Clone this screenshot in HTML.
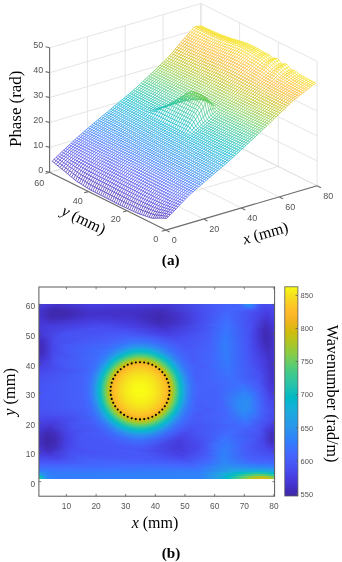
<!DOCTYPE html>
<html><head><meta charset="utf-8"><style>
html,body{margin:0;padding:0;background:#fff;width:342px;height:562px;overflow:hidden}
svg{display:block;will-change:transform}
.s{font-family:"Liberation Sans",sans-serif}
.r{font-family:"Liberation Serif",serif;fill:#000}
</style></head><body>
<svg width="342" height="562" viewBox="0 0 342 562">
<path d="M165.8 230.1L49.6 172.3M49.6 172.3L49.6 47.8M203.6 219L87.4 161.2M87.4 161.2L87.4 36.7M241.4 207.9L125.2 150.2M125.2 150.2L125.2 25.7M279.3 196.9L163 139.1M163 139.1L163 14.6M317.1 185.8L200.9 128M200.9 128L200.9 3.5M165.8 230.1L317.1 185.8M317.1 185.8L317.1 61.3M127.1 210.8L278.3 166.5M278.3 166.5L278.3 42M88.3 191.6L239.6 147.3M239.6 147.3L239.6 22.8M49.6 172.3L200.9 128M200.9 128L200.9 3.5M49.6 172.3L200.9 128M317.1 185.8L200.9 128M49.6 147.4L200.9 103.1M317.1 160.9L200.9 103.1M49.6 122.5L200.9 78.2M317.1 136L200.9 78.2M49.6 97.6L200.9 53.3M317.1 111.1L200.9 53.3M49.6 72.7L200.9 28.4M317.1 86.2L200.9 28.4M49.6 47.8L200.9 3.5M317.1 61.3L200.9 3.5" stroke="#dedede" stroke-width="0.8" fill="none"/>
<path transform="scale(.1)" d="M1665 2185l19-20 19-18 19-18 19-19 19-21 19-20 19-20 19-20 18-19 19-20 19-19 19-19 19-18 19-16 19-17 19-16 19-17 19-16 19-16 18-16 19-17 19-16 19-16 19-16 19-16 19-16 19-16 19-16 19-16 19-16 18-16 19-16 19-17 19-17 19-17 19-18 19-17 19-17 19-18 19-17 19-18 19-17 18-18 19-17 19-18 19-18 19-18 19-17 19-18 19-18 19-18 19-18 19-18 18-18 19-18 19-18 19-19 19-18 19-18 19-18 19-18 19-18 19-18 19-18 18-18 19-18 19-17 19-15 19-15 19-15 19-15 19-15 19-14 19-15 19-15 18-14 19-15 19-14 19-13 0 0-19-10-20-10-19-10-19-10-20-11-19-11-19-10-20-9-19-14-20-18-19-12-19-4-20-10-19-24-19-25-20-6-19 5-19-12-20-28-19-19-20 0-19 0-19-14-20-19-19-12-19-7-20-9-19-13-20-13-19-11-19-10-20-10-19-9-19-9-20-8-19-8-20-7-19-6-19-6-20-6-19-6-19-6-20-6-19-6-19-7-20-7-19-7-20-7-19-7-19-8-20-8-19-9-19-8-20-9-19-9-20-9-19-9-19-10-20-9 0 0-19 2-18 1-19 2-19 8-19 22-19 22-19 21-19 22-19 22-19 22-19 22-19 22-18 22-19 22-19 23-19 22-19 22-19 22-19 19-19 18-19 17-19 18-19 18-18 18-19 18-19 18-19 18-19 18-19 18-19 18-19 18-19 17-19 18-19 18-19 17-18 17-19 16-19 16-19 16-19 16-19 16-19 15-19 16-19 16-19 16-19 15-18 16-19 16-19 15-19 16-19 16-19 15-19 16-19 16-19 15-19 16-19 16-18 15-19 16-19 17-19 16-19 17-19 17-19 17-19 16-19 17-19 17-19 18-18 17-19 17-19 17-19 18-19 18-19 17-19 18-19 19-19 18-19 19-19 20 0 0 20 15 19 16 20 15 19 16 19 16 20 16 19 16 19 16 20 17 19 16 20 16 19 16 19 14 20 12 19 12 19 13 20 12 19 12 19 12 20 11 19 10 20 10 19 10 19 10 20 10 19 10 19 10 20 10 19 10 20 10 19 10 19 10 20 10 19 10 19 9 20 9 19 9 20 9 19 9 19 9 20 9 19 9 19 9 20 9 19 8 19 6 20 7 19 6 20 7 19 6 19 7 20 4 19-1 19 0 20 0 19 0 20 0 19 1 19 2z" fill="#fff"/>
<defs><linearGradient id="sg" gradientUnits="userSpaceOnUse" x1="1076" y1="1912" x2="1924" y2="207"><stop offset="0" stop-color="#402bb5"/><stop offset=".05" stop-color="#4538d7"/><stop offset=".1" stop-color="#4748eb"/><stop offset=".15" stop-color="#4759f8"/><stop offset=".2" stop-color="#416afe"/><stop offset=".25" stop-color="#327cfc"/><stop offset=".3" stop-color="#2c8df2"/><stop offset=".35" stop-color="#259ce8"/><stop offset=".4" stop-color="#1ca9df"/><stop offset=".45" stop-color="#09b5d0"/><stop offset=".5" stop-color="#0ebdbc"/><stop offset=".55" stop-color="#2bc4a7"/><stop offset=".6" stop-color="#40ca8b"/><stop offset=".65" stop-color="#63cd69"/><stop offset=".7" stop-color="#89cb46"/><stop offset=".75" stop-color="#abc627"/><stop offset=".8" stop-color="#cabe10"/><stop offset=".85" stop-color="#e8b618"/><stop offset=".9" stop-color="#feb728"/><stop offset=".95" stop-color="#faca25"/><stop offset="1" stop-color="#f5e31d"/></linearGradient></defs>
<path transform="scale(.1)" d="M1665 2185l19-20 19-18 19-18 19-19 19-21 19-20 19-20 19-20 18-19 19-20 19-19 19-19 19-18 19-16 19-17 19-16 19-17 19-16 19-16 18-16 19-17 19-16 19-16 19-16 19-16 19-16 19-16 19-16 19-16 19-16 18-16 19-16 19-17 19-17 19-17 19-18 19-17 19-17 19-18 19-17 19-18 19-17 18-18 19-17 19-18 19-18 19-18 19-17 19-18 19-18 19-18 19-18 19-18 18-18 19-18 19-18 19-19 19-18 19-18 19-18 19-18 19-18 19-18 19-18 18-18 19-18 19-17 19-15 19-15 19-15 19-15 19-15 19-14 19-15 19-15 18-14 19-15 19-14 19-13M1646 2183l19-21 19-20 19-19 19-20 18-21 19-21 19-20 19-20 19-20 19-20 19-19 19-19 19-18 19-17 19-16 18-17 19-16 19-17 19-16 19-16 19-16 19-16 19-16 19-16 19-16 19-16 18-16 19-16 19-16 19-16 19-16 19-16 19-17 19-17 19-17 19-17 19-18 18-17 19-17 19-18 19-17 19-18 19-17 19-18 19-18 19-18 19-17 19-18 19-18 18-18 19-18 19-18 19-18 19-18 19-18 19-18 19-19 19-18 19-18 19-18 18-18 19-18 19-19 19-18 19-18 19-18 19-17 19-15 19-15 19-15 19-15 18-15 19-15 19-15 19-14 19-15 19-14 19-14 19-13M1627 2182l18-23 19-22 19-20 19-21 19-22 19-21 19-21 19-20 19-20 19-20 19-19 18-20 19-18 19-16 19-17 19-16 19-17 19-16 19-16 19-17 19-16 19-16 18-16 19-16 19-16 19-16 19-16 19-16 19-16 19-15 19-16 19-16 19-17 18-17 19-17 19-17 19-18 19-17 19-17 19-18 19-17 19-18 19-17 19-18 18-17 19-18 19-18 19-18 19-18 19-18 19-18 19-18 19-18 19-18 19-18 19-18 18-19 19-18 19-18 19-18 19-18 19-19 19-18 19-18 19-18 19-19 19-17 18-15 19-15 19-15 19-15 19-15 19-15 19-15 19-15 19-14 19-14 19-14 18-13M1607 2182l19-26 19-23 19-22 19-21 19-23 19-22 19-21 18-21 19-20 19-20 19-20 19-19 19-18 19-17 19-16 19-17 19-16 19-17 18-16 19-16 19-16 19-16 19-16 19-16 19-16 19-16 19-16 19-16 19-16 18-16 19-16 19-16 19-16 19-17 19-17 19-17 19-18 19-17 19-17 19-17 18-18 19-17 19-18 19-17 19-18 19-18 19-18 19-18 19-18 19-18 19-18 18-18 19-18 19-18 19-18 19-19 19-18 19-18 19-18 19-18 19-19 19-18 19-18 18-19 19-18 19-18 19-18 19-15 19-15 19-16 19-15 19-15 19-15 19-15 18-15 19-14 19-14 19-13 19-13M1588 2182l19-28 19-25 19-23 18-23 19-23 19-23 19-21 19-21 19-21 19-20 19-20 19-19 19-18 19-17 18-17 19-17 19-16 19-17 19-16 19-16 19-16 19-16 19-16 19-16 19-16 18-16 19-15 19-16 19-16 19-16 19-16 19-16 19-16 19-17 19-17 19-17 18-17 19-18 19-17 19-17 19-18 19-17 19-17 19-18 19-18 19-18 19-17 18-18 19-18 19-18 19-18 19-19 19-18 19-18 19-18 19-19 19-18 19-18 18-18 19-19 19-18 19-18 19-19 19-18 19-19 19-18 19-18 19-15 19-16 19-15 18-15 19-16 19-15 19-15 19-15 19-14 19-14 19-13 19-12M1568 2182l19-30 19-27 19-24 19-24 19-24 19-23 19-22 19-22 19-21 19-20 18-20 19-20 19-18 19-17 19-17 19-16 19-17 19-16 19-16 19-17 19-16 18-16 19-16 19-15 19-16 19-16 19-16 19-16 19-15 19-16 19-16 19-16 18-16 19-17 19-17 19-17 19-17 19-17 19-18 19-17 19-17 19-18 19-17 18-18 19-17 19-18 19-18 19-18 19-18 19-18 19-18 19-18 19-19 19-18 18-18 19-19 19-18 19-18 19-19 19-18 19-18 19-19 19-18 19-19 19-19 18-18 19-18 19-15 19-16 19-15 19-16 19-15 19-16 19-15 19-16 19-14 19-13 18-13 19-12M1549 2182l19-32 19-28 19-26 19-25 19-25 19-24 18-23 19-22 19-21 19-20 19-20 19-20 19-18 19-17 19-17 19-17 19-17 18-16 19-16 19-16 19-16 19-16 19-16 19-16 19-16 19-16 19-15 19-16 18-16 19-15 19-16 19-16 19-16 19-17 19-17 19-17 19-17 19-17 19-17 18-18 19-17 19-17 19-18 19-17 19-18 19-18 19-18 19-18 19-18 19-18 18-18 19-18 19-19 19-18 19-18 19-19 19-18 19-19 19-18 19-18 19-19 18-18 19-19 19-19 19-18 19-19 19-17 19-16 19-16 19-16 19-16 19-15 18-16 19-16 19-15 19-14 19-13 19-13 19-12M1530 2183l19-35 19-30 18-27 19-26 19-26 19-25 19-23 19-22 19-22 19-20 19-21 19-20 19-18 18-17 19-17 19-17 19-16 19-17 19-16 19-16 19-16 19-16 19-16 19-16 18-15 19-16 19-16 19-15 19-16 19-16 19-15 19-16 19-16 19-17 19-17 18-17 19-17 19-17 19-17 19-17 19-18 19-17 19-17 19-18 19-18 19-18 18-18 19-18 19-18 19-18 19-18 19-18 19-18 19-19 19-18 19-19 19-18 18-19 19-18 19-18 19-19 19-19 19-19 19-18 19-19 19-19 19-17 19-16 18-16 19-16 19-16 19-16 19-15 19-16 19-16 19-13 19-13 19-13 19-12M1510 2179l19-36 19-31 19-29 19-26 19-27 19-24 19-24 19-22 19-22 18-21 19-20 19-20 19-18 19-18 19-17 19-16 19-17 19-16 19-17 19-16 18-16 19-16 19-15 19-16 19-16 19-15 19-16 19-16 19-15 19-16 19-15 18-16 19-16 19-17 19-17 19-17 19-17 19-17 19-17 19-17 19-17 19-18 18-17 19-17 19-18 19-18 19-18 19-18 19-18 19-19 19-18 19-18 19-18 18-19 19-18 19-19 19-18 19-19 19-18 19-19 19-18 19-19 19-19 19-19 18-19 19-19 19-17 19-17 19-16 19-16 19-15 19-16 19-16 19-16 19-15 18-14 19-13 19-12 19-11M1491 2172l19-36 19-32 19-29 19-27 19-27 18-25 19-23 19-23 19-21 19-21 19-21 19-20 19-18 19-17 19-17 19-17 18-17 19-16 19-16 19-17 19-15 19-16 19-16 19-16 19-15 19-16 19-15 18-16 19-16 19-15 19-16 19-15 19-16 19-17 19-17 19-17 19-16 19-17 18-17 19-18 19-17 19-17 19-18 19-17 19-18 19-18 19-18 19-18 19-18 18-18 19-19 19-18 19-18 19-19 19-18 19-19 19-18 19-19 19-19 19-18 18-19 19-19 19-19 19-19 19-19 19-19 19-18 19-16 19-16 19-16 19-17 18-16 19-16 19-17 19-16 19-14 19-13 19-12 19-11M1472 2166l18-38 19-32 19-29 19-28 19-27 19-25 19-24 19-22 19-22 19-21 19-21 19-20 18-18 19-17 19-17 19-17 19-17 19-16 19-16 19-16 19-16 19-16 19-16 18-15 19-16 19-15 19-16 19-15 19-16 19-15 19-16 19-15 19-16 19-17 18-17 19-16 19-17 19-17 19-17 19-17 19-17 19-18 19-17 19-18 19-17 18-18 19-18 19-19 19-18 19-18 19-18 19-19 19-18 19-19 19-18 19-19 18-19 19-18 19-19 19-18 19-19 19-19 19-19 19-19 19-20 19-19 19-18 18-16 19-17 19-17 19-17 19-17 19-17 19-17 19-18 19-14 19-14 19-12 18-12M1452 2159l19-38 19-33 19-30 19-28 19-27 19-25 19-24 18-23 19-22 19-21 19-20 19-20 19-19 19-17 19-17 19-17 19-16 19-17 19-16 18-16 19-16 19-16 19-15 19-16 19-15 19-16 19-15 19-16 19-15 19-15 18-16 19-15 19-16 19-17 19-17 19-16 19-17 19-17 19-17 19-17 19-17 18-17 19-18 19-17 19-18 19-18 19-18 19-18 19-18 19-19 19-18 19-19 18-18 19-19 19-18 19-19 19-19 19-18 19-19 19-19 19-18 19-20 19-19 18-19 19-19 19-20 19-18 19-17 19-17 19-17 19-17 19-17 19-18 19-17 18-18 19-15 19-13 19-13 19-11M1433 2153l19-39 19-34 19-30 18-28 19-28 19-25 19-24 19-23 19-22 19-21 19-21 19-20 19-19 19-17 18-17 19-17 19-16 19-17 19-16 19-16 19-16 19-15 19-16 19-15 19-16 19-15 18-16 19-15 19-15 19-16 19-15 19-16 19-16 19-16 19-16 19-17 19-17 18-17 19-17 19-17 19-17 19-17 19-17 19-18 19-18 19-18 19-18 19-18 18-18 19-19 19-18 19-18 19-19 19-19 19-18 19-19 19-19 19-19 19-18 18-19 19-19 19-19 19-20 19-19 19-19 19-20 19-18 19-17 19-17 19-17 18-16 19-17 19-17 19-17 19-17 19-14 19-13 19-12 19-10M1413 2146l19-39 19-35 19-31 19-28 19-28 19-26 19-24 19-23 19-22 19-21 18-21 19-20 19-18 19-18 19-17 19-17 19-16 19-16 19-17 19-16 19-15 18-16 19-16 19-15 19-15 19-16 19-15 19-15 19-16 19-15 19-15 19-16 19-16 18-16 19-16 19-17 19-17 19-16 19-17 19-17 19-17 19-18 19-17 19-17 18-18 19-18 19-18 19-19 19-18 19-18 19-19 19-18 19-19 19-19 19-18 18-19 19-19 19-19 19-19 19-18 19-19 19-20 19-19 19-20 19-19 19-20 18-18 19-17 19-17 19-17 19-17 19-17 19-17 19-17 19-17 19-14 19-12 18-11 19-11M1394 2140l19-41 19-35 19-31 19-29 19-28 19-26 18-24 19-23 19-23 19-21 19-20 19-21 19-18 19-17 19-18 19-16 19-17 18-16 19-16 19-16 19-16 19-16 19-15 19-16 19-15 19-15 19-15 19-16 18-15 19-15 19-15 19-16 19-16 19-16 19-16 19-17 19-16 19-17 19-17 19-17 18-17 19-17 19-17 19-18 19-18 19-18 19-18 19-18 19-19 19-18 19-19 18-18 19-19 19-19 19-18 19-19 19-19 19-19 19-19 19-19 19-19 19-19 18-20 19-20 19-19 19-20 19-19 19-17 19-18 19-18 19-18 19-18 19-19 18-19 19-19 19-15 19-13 19-13 19-10M1375 2132l19-41 19-36 18-31 19-29 19-28 19-26 19-25 19-23 19-22 19-22 19-20 19-20 19-19 18-17 19-17 19-17 19-17 19-16 19-16 19-16 19-16 19-15 19-16 19-15 18-15 19-16 19-15 19-15 19-15 19-15 19-16 19-15 19-16 19-16 19-16 18-17 19-16 19-17 19-17 19-17 19-17 19-17 19-17 19-17 19-18 19-18 19-19 18-18 19-18 19-19 19-18 19-19 19-19 19-19 19-19 19-18 19-19 19-19 18-19 19-19 19-19 19-20 19-20 19-20 19-20 19-19 19-20 19-18 19-18 18-18 19-19 19-20 19-20 19-21 19-21 19-18 19-14 19-14 19-10M1355 2123l19-41 19-36 19-32 19-29 19-28 19-26 19-25 19-23 19-22 18-21 19-21 19-20 19-19 19-17 19-17 19-17 19-17 19-16 19-16 19-16 18-16 19-15 19-15 19-16 19-15 19-15 19-15 19-15 19-15 19-16 19-15 18-15 19-16 19-16 19-16 19-16 19-17 19-17 19-16 19-17 19-17 19-17 18-18 19-17 19-18 19-18 19-18 19-19 19-18 19-19 19-18 19-19 19-19 19-19 18-19 19-19 19-19 19-19 19-18 19-19 19-19 19-21 19-20 19-20 19-20 18-20 19-19 19-18 19-18 19-19 19-19 19-19 19-20 19-21 19-20 19-16 18-14 19-13 19-10M1336 2114l19-41 19-36 19-32 19-30 19-28 18-26 19-25 19-23 19-22 19-21 19-21 19-20 19-19 19-17 19-17 19-17 18-16 19-17 19-16 19-16 19-15 19-16 19-15 19-15 19-15 19-16 19-15 18-15 19-15 19-15 19-15 19-15 19-16 19-16 19-16 19-16 19-17 19-16 18-17 19-17 19-17 19-17 19-17 19-18 19-18 19-18 19-18 19-18 19-19 18-18 19-19 19-19 19-19 19-19 19-19 19-19 19-19 19-19 19-19 19-19 19-19 18-20 19-20 19-21 19-20 19-20 19-19 19-18 19-18 19-19 19-18 19-18 18-18 19-19 19-18 19-14 19-12 19-11 19-9M1317 2105l19-42 18-36 19-32 19-29 19-28 19-27 19-24 19-24 19-22 19-21 19-21 19-20 18-18 19-18 19-17 19-17 19-16 19-17 19-16 19-16 19-15 19-15 19-16 18-15 19-15 19-15 19-15 19-15 19-15 19-15 19-15 19-15 19-16 19-16 18-16 19-16 19-17 19-16 19-17 19-17 19-17 19-17 19-17 19-17 19-18 18-18 19-19 19-18 19-19 19-18 19-19 19-19 19-19 19-19 19-19 19-19 18-19 19-19 19-19 19-19 19-20 19-20 19-20 19-21 19-20 19-20 19-20 19-18 18-19 19-18 19-18 19-19 19-18 19-19 19-18 19-14 19-12 19-10 19-10M1297 2096l19-42 19-36 19-32 19-30 19-28 19-26 19-25 19-23 18-23 19-21 19-21 19-20 19-18 19-18 19-17 19-17 19-16 19-16 19-16 18-16 19-16 19-15 19-15 19-15 19-15 19-15 19-15 19-15 19-15 19-15 18-15 19-15 19-16 19-16 19-16 19-16 19-16 19-17 19-17 19-16 19-17 18-17 19-18 19-17 19-18 19-18 19-18 19-19 19-18 19-19 19-19 19-19 18-19 19-19 19-19 19-19 19-19 19-19 19-19 19-20 19-19 19-21 19-20 18-21 19-21 19-20 19-20 19-19 19-19 19-19 19-20 19-20 19-21 19-21 19-21 18-16 19-13 19-12 19-9M1278 2087l19-42 19-36 19-33 19-29 18-29 19-26 19-25 19-23 19-22 19-22 19-20 19-20 19-19 19-17 19-18 18-16 19-17 19-16 19-16 19-16 19-15 19-16 19-15 19-15 19-15 19-15 18-15 19-15 19-15 19-14 19-15 19-15 19-16 19-16 19-16 19-16 19-16 18-17 19-16 19-17 19-17 19-17 19-17 19-18 19-18 19-18 19-18 19-19 18-18 19-19 19-19 19-18 19-19 19-20 19-19 19-19 19-19 19-20 19-19 18-19 19-20 19-20 19-21 19-21 19-21 19-21 19-20 19-19 19-20 19-20 18-20 19-21 19-22 19-22 19-22 19-17 19-14 19-12 19-9M1259 2078l18-42 19-37 19-32 19-30 19-29 19-26 19-25 19-23 19-22 19-22 19-20 18-20 19-19 19-17 19-17 19-17 19-17 19-16 19-16 19-16 19-15 19-15 18-16 19-15 19-14 19-15 19-15 19-15 19-15 19-15 19-15 19-15 19-15 18-16 19-16 19-16 19-16 19-17 19-16 19-17 19-17 19-17 19-17 19-17 18-18 19-19 19-18 19-18 19-19 19-19 19-19 19-18 19-19 19-20 19-19 18-19 19-19 19-20 19-19 19-20 19-19 19-21 19-21 19-21 19-21 19-21 18-21 19-19 19-20 19-19 19-20 19-21 19-20 19-21 19-20 19-15 19-12 18-11 19-9M1239 2069l19-42 19-37 19-33 19-30 19-28 19-27 19-24 18-24 19-22 19-21 19-21 19-20 19-18 19-18 19-17 19-17 19-16 19-17 18-16 19-15 19-16 19-15 19-15 19-15 19-15 19-15 19-15 19-14 19-15 18-15 19-15 19-15 19-15 19-16 19-16 19-16 19-16 19-17 19-16 19-17 18-17 19-17 19-18 19-17 19-18 19-19 19-18 19-18 19-19 19-18 19-19 18-18 19-19 19-20 19-19 19-19 19-20 19-19 19-20 19-19 19-20 19-21 18-21 19-21 19-22 19-21 19-21 19-19 19-20 19-19 19-19 19-20 19-19 18-19 19-19 19-13 19-11 19-9 19-9M1220 2060l19-42 19-37 19-33 18-30 19-29 19-26 19-25 19-23 19-23 19-21 19-21 19-19 19-19 19-18 18-17 19-16 19-17 19-16 19-16 19-16 19-15 19-16 19-15 19-15 19-14 18-15 19-15 19-15 19-14 19-15 19-15 19-15 19-15 19-16 19-16 19-16 18-17 19-17 19-18 19-17 19-18 19-18 19-18 19-18 19-19 19-19 19-19 18-17 19-16 19-16 19-18 19-18 19-19 19-19 19-19 19-19 19-20 19-19 18-20 19-20 19-19 19-22 19-21 19-22 19-21 19-22 19-21 19-20 19-19 18-20 19-20 19-20 19-20 19-19 19-19 19-14 19-10 19-9 19-9M1200 2051l19-43 19-37 19-33 19-30 19-28 19-27 19-25 19-23 19-22 19-22 18-20 19-20 19-19 19-17 19-17 19-17 19-17 19-16 19-16 19-16 19-15 18-15 19-15 19-15 19-15 19-15 19-14 19-15 19-15 19-15 19-14 19-15 18-16 19-15 19-16 19-16 19-21 19-21 19-22 19-22 19-21 19-22 19-23 18-22 19-23 19-23 19-22 19-10 19-3 19-5 19-10 19-15 19-17 19-19 18-19 19-20 19-19 19-20 19-19 19-20 19-20 19-21 19-22 19-22 19-22 18-21 19-22 19-20 19-21 19-20 19-21 19-20 19-21 19-21 19-20 19-14 18-11 19-10 19-8M1181 2042l19-43 19-37 19-33 19-31 19-28 18-27 19-24 19-24 19-22 19-21 19-21 19-20 19-18 19-18 19-17 19-17 19-16 18-16 19-16 19-16 19-16 19-15 19-15 19-15 19-14 19-15 19-15 19-14 18-15 19-15 19-15 19-14 19-16 19-15 19-16 19-16 19-29 19-28 19-29 18-29 19-30 19-29 19-30 19-30 19-30 19-31 19-26 19 3 19 18 19 16 18 4 19-8 19-15 19-18 19-19 19-20 19-19 19-20 19-20 19-19 19-20 18-22 19-22 19-22 19-22 19-22 19-22 19-20 19-21 19-21 19-21 19-21 18-21 19-20 19-21 19-14 19-11 19-9 19-8M1162 2032l19-43 18-37 19-33 19-30 19-29 19-26 19-25 19-23 19-23 19-21 19-20 19-20 18-19 19-17 19-18 19-16 19-17 19-16 19-16 19-16 19-15 19-15 19-15 19-15 18-15 19-14 19-15 19-15 19-14 19-15 19-15 19-15 19-15 19-16 19-15 18-16 19-32 19-32 19-32 19-32 19-32 19-33 19-33 19-32 19-34 19-34 18-28 19 9 19 27 19 24 19 9 19-5 19-13 19-18 19-19 19-20 19-19 18-20 19-20 19-20 19-20 19-22 19-22 19-22 19-22 19-23 19-22 19-20 18-21 19-21 19-21 19-21 19-20 19-21 19-19 19-14 19-9 19-9 19-8M1142 2022l19-43 19-37 19-33 19-30 19-29 19-26 19-25 19-23 18-22 19-22 19-20 19-20 19-18 19-18 19-17 19-17 19-16 19-17 19-16 18-15 19-16 19-15 19-15 19-14 19-15 19-15 19-15 19-14 19-15 19-14 19-15 18-15 19-15 19-16 19-15 19-16 19-33 19-32 19-32 19-33 19-33 19-33 18-33 19-34 19-34 19-34 19-29 19 10 19 28 19 26 19 11 19-5 19-14 18-17 19-19 19-20 19-20 19-19 19-20 19-20 19-20 19-22 19-23 19-22 18-23 19-22 19-22 19-21 19-22 19-21 19-21 19-20 19-21 19-20 19-19 18-13 19-9 19-9 19-7M1123 2012l19-43 19-37 19-33 19-30 18-29 19-26 19-25 19-23 19-22 19-21 19-21 19-19 19-19 19-17 19-18 18-16 19-17 19-16 19-16 19-16 19-15 19-15 19-15 19-15 19-15 19-14 18-15 19-15 19-14 19-15 19-15 19-14 19-15 19-16 19-16 19-16 19-32 19-32 18-33 19-33 19-32 19-34 19-33 19-33 19-35 19-34 19-28 19 9 19 29 18 26 19 11 19-5 19-14 19-17 19-20 19-19 19-20 19-20 19-19 19-20 18-21 19-22 19-22 19-23 19-23 19-23 19-22 19-21 19-22 19-21 19-21 18-22 19-20 19-21 19-20 19-12 19-10 19-8 19-7M1104 2002l18-43 19-37 19-33 19-30 19-28 19-27 19-24 19-23 19-22 19-22 19-20 18-20 19-18 19-18 19-17 19-17 19-16 19-17 19-16 19-15 19-16 19-15 18-15 19-14 19-15 19-15 19-14 19-15 19-15 19-14 19-15 19-15 19-15 18-15 19-16 19-16 19-32 19-32 19-33 19-33 19-33 19-33 19-33 19-33 19-35 18-34 19-28 19 9 19 29 19 26 19 11 19-4 19-14 19-18 19-20 19-19 18-20 19-20 19-20 19-20 19-20 19-22 19-23 19-23 19-23 19-23 19-22 18-22 19-22 19-21 19-22 19-22 19-21 19-20 19-21 19-12 19-10 19-8 18-7M1084 1992l19-43 19-37 19-33 19-30 19-28 19-26 19-25 18-23 19-22 19-21 19-20 19-20 19-19 19-17 19-17 19-17 19-17 19-16 18-16 19-16 19-15 19-15 19-15 19-15 19-14 19-15 19-15 19-14 19-15 18-15 19-14 19-15 19-15 19-16 19-15 19-16 19-32 19-33 19-32 19-33 18-33 19-33 19-33 19-34 19-34 19-34 19-28 19 10 19 29 19 27 19 11 19-5 18-15 19-18 19-20 19-19 19-20 19-20 19-20 19-20 19-20 19-23 19-23 18-22 19-23 19-24 19-23 19-21 19-22 19-22 19-22 19-22 19-21 19-21 18-20 19-13 19-9 19-8 19-7M1065 1982l19-43 19-37 19-33 18-30 19-28 19-26 19-24 19-24 19-22 19-21 19-20 19-20 19-18 19-18 18-17 19-17 19-16 19-16 19-16 19-16 19-15 19-15 19-15 19-15 19-15 18-14 19-15 19-15 19-14 19-15 19-15 19-14 19-15 19-16 19-16 19-15 18-32 19-33 19-32 19-33 19-33 19-33 19-33 19-34 19-34 19-34 19-28 18 11 19 31 19 27 19 11 19-7 19-15 19-19 19-20 19-19 19-20 19-20 19-20 18-20 19-20 19-23 19-23 19-23 19-23 19-23 19-23 19-22 19-23 19-22 18-22 19-21 19-22 19-21 19-20 19-13 19-8 19-8 19-7M1045 1972l19-43 19-37 19-32 19-30 19-29 19-26 19-24 19-23 19-22 19-21 18-20 19-20 19-18 19-18 19-17 19-17 19-16 19-17 19-16 19-16 19-15 18-15 19-15 19-15 19-14 19-15 19-14 19-15 19-15 19-14 19-15 19-15 18-15 19-15 19-16 19-16 19-32 19-32 19-33 19-32 19-33 19-33 19-33 18-34 19-34 19-34 19-26 19 13 19 34 19 28 19 8 19-10 19-17 19-19 18-20 19-19 19-20 19-20 19-20 19-20 19-20 19-23 19-23 19-23 19-23 19-24 18-23 19-22 19-23 19-22 19-22 19-22 19-21 19-21 19-21 19-12 19-9 18-7 19-7M1026 1962l19-43 19-37 19-32 19-30 19-28 19-26 18-25 19-22 19-22 19-21 19-21 19-19 19-19 19-17 19-17 19-17 19-17 18-16 19-16 19-16 19-15 19-15 19-15 19-15 19-15 19-14 19-15 19-14 18-15 19-15 19-14 19-15 19-15 19-16 19-15 19-16 19-32 19-32 19-33 18-33 19-32 19-33 19-33 19-34 19-33 19-33 19-22 19 19 19 38 19 25 18 1 19-15 19-18 19-19 19-20 19-19 19-20 19-20 19-20 19-20 19-20 18-23 19-23 19-23 19-24 19-23 19-23 19-23 19-22 19-22 19-23 19-22 19-21 18-22 19-20 19-12 19-9 19-7 19-6M1007 1952l19-43 19-36 18-33 19-30 19-28 19-26 19-24 19-23 19-22 19-21 19-20 19-19 19-19 18-17 19-18 19-16 19-17 19-16 19-16 19-16 19-15 19-15 19-15 19-15 18-15 19-15 19-14 19-15 19-14 19-15 19-15 19-15 19-15 19-15 19-16 18-15 19-33 19-32 19-32 19-33 19-33 19-33 19-33 19-32 19-32 19-29 18-13 19 30 19 37 19 13 19-9 19-17 19-19 19-19 19-20 19-19 19-20 18-20 19-20 19-20 19-20 19-23 19-23 19-23 19-24 19-23 19-23 19-23 18-22 19-23 19-22 19-22 19-22 19-21 19-21 19-12 19-8 19-7 19-6M987 1942l19-42 19-37 19-33 19-29 19-28 19-26 19-24 19-23 19-22 18-21 19-20 19-20 19-18 19-18 19-17 19-17 19-16 19-16 19-17 19-15 18-16 19-15 19-15 19-15 19-14 19-15 19-15 19-14 19-15 19-15 19-14 18-15 19-15 19-16 19-15 19-16 19-32 19-32 19-33 19-32 19-33 19-33 18-32 19-31 19-29 19-18 19 4 19 35 19 22 19-3 19-15 19-18 19-19 18-19 19-20 19-19 19-20 19-20 19-20 19-20 19-20 19-23 19-23 19-23 18-23 19-24 19-23 19-22 19-23 19-22 19-23 19-22 19-22 19-21 19-21 18-12 19-7 19-7 19-6M968 1932l19-42 19-37 19-32 19-30 19-28 18-26 19-24 19-23 19-21 19-21 19-20 19-20 19-18 19-18 19-17 19-17 18-16 19-17 19-16 19-16 19-15 19-15 19-15 19-15 19-15 19-14 19-15 18-15 19-14 19-15 19-15 19-15 19-15 19-15 19-16 19-15 19-32 19-33 18-32 19-33 19-32 19-32 19-31 19-28 19-18 19-1 19 17 19 22 19 2 18-13 19-17 19-19 19-19 19-20 19-19 19-19 19-20 19-20 19-19 19-20 18-21 19-22 19-23 19-24 19-23 19-23 19-23 19-23 19-22 19-23 19-22 18-22 19-22 19-21 19-21 19-12 19-7 19-7 19-6M949 1922l19-42 18-37 19-32 19-30 19-28 19-25 19-24 19-23 19-22 19-20 19-20 19-20 18-18 19-18 19-17 19-17 19-16 19-17 19-16 19-16 19-15 19-15 19-15 18-15 19-15 19-15 19-14 19-15 19-15 19-14 19-15 19-15 19-15 19-16 18-15 19-16 19-32 19-32 19-33 19-32 19-32 19-31 19-27 19-18 19-2 18 11 19 12 19 1 19-10 19-17 19-18 19-19 19-19 19-20 19-19 19-19 18-20 19-19 19-20 19-20 19-20 19-23 19-23 19-23 19-23 19-24 19-23 18-22 19-23 19-22 19-22 19-22 19-22 19-21 19-21 19-12 19-7 19-6 18-6M929 1912l19-42 19-37 19-32 19-29 19-28 19-26 19-24 19-22 18-22 19-21 19-20 19-19 19-18 19-18 19-17 19-17 19-17 19-16 19-16 18-16 19-15 19-16 19-15 19-14 19-15 19-15 19-15 19-14 19-15 19-15 18-15 19-15 19-15 19-15 19-16 19-15 19-33 19-32 19-32 19-32 19-31 18-27 19-18 19-3 19 8 19 6 19-3 19-11 19-16 19-18 19-18 19-19 18-19 19-20 19-19 19-19 19-20 19-19 19-20 19-20 19-20 19-23 19-22 18-23 19-24 19-23 19-23 19-22 19-22 19-23 19-22 19-22 19-21 19-22 18-21 19-11 19-7 19-6 19-5M910 1902l19-42 19-36 19-33 18-29 19-28 19-25 19-24 19-23 19-21 19-21 19-20 19-19 19-18 19-18 19-17 18-17 19-17 19-16 19-16 19-16 19-16 19-15 19-15 19-15 19-15 19-14 18-15 19-15 19-15 19-14 19-15 19-15 19-15 19-16 19-15 19-16 19-32 18-32 19-32 19-31 19-27 19-19 19-5 19 5 19 3 19-7 19-12 19-16 18-17 19-19 19-19 19-19 19-19 19-19 19-19 19-19 19-20 19-19 19-20 18-19 19-20 19-23 19-23 19-23 19-23 19-23 19-23 19-22 19-22 19-22 18-22 19-22 19-22 19-21 19-21 19-11 19-6 19-6 19-5M890 1891l19-42 19-36 19-32 19-29 19-27 19-26 19-23 19-23 19-21 19-21 18-20 19-19 19-18 19-18 19-17 19-17 19-17 19-16 19-16 19-16 19-16 19-15 18-15 19-15 19-15 19-15 19-15 19-14 19-15 19-15 19-15 19-15 19-15 18-15 19-16 19-16 19-32 19-31 19-31 19-28 19-20 19-7 19 2 19-1 18-8 19-14 19-16 19-17 19-19 19-18 19-19 19-19 19-19 19-19 19-19 18-19 19-19 19-20 19-19 19-20 19-20 19-22 19-23 19-23 19-23 19-23 18-23 19-22 19-22 19-22 19-22 19-21 19-22 19-21 19-21 19-11 19-6 18-6 19-4M871 1879l19-41 19-36 19-31 19-29 19-28 19-25 18-23 19-22 19-22 19-20 19-20 19-19 19-18 19-18 19-17 19-17 19-17 18-16 19-16 19-17 19-15 19-15 19-15 19-15 19-15 19-15 19-15 19-15 19-15 18-14 19-15 19-15 19-16 19-15 19-16 19-15 19-32 19-31 19-28 19-21 18-10 19-2 19-4 19-9 19-14 19-17 19-17 19-18 19-19 19-18 19-19 18-19 19-19 19-19 19-19 19-19 19-19 19-20 19-19 19-19 19-20 19-23 18-22 19-23 19-23 19-23 19-22 19-22 19-22 19-22 19-22 19-21 19-22 18-21 19-21 19-10 19-6 19-6 19-4M852 1867l19-41 19-35 18-31 19-29 19-27 19-24 19-24 19-22 19-21 19-20 19-20 19-19 19-18 18-18 19-17 19-17 19-17 19-16 19-17 19-16 19-15 19-15 19-15 19-15 18-15 19-15 19-15 19-15 19-15 19-15 19-15 19-15 19-15 19-16 19-15 19-16 18-31 19-29 19-23 19-12 19-6 19-7 19-10 19-14 19-17 19-17 19-18 18-19 19-18 19-19 19-18 19-19 19-19 19-19 19-19 19-19 19-19 19-19 18-20 19-19 19-19 19-23 19-23 19-22 19-23 19-23 19-22 19-22 19-22 18-21 19-22 19-22 19-21 19-21 19-20 19-11 19-6 19-5 19-4M832 1855l19-40 19-35 19-31 19-28 19-27 19-24 19-23 19-22 19-21 18-21 19-19 19-19 19-18 19-18 19-17 19-17 19-17 19-16 19-17 19-16 18-15 19-15 19-16 19-15 19-15 19-15 19-15 19-15 19-14 19-15 19-15 18-15 19-16 19-15 19-16 19-16 19-29 19-25 19-15 19-10 19-9 19-12 19-15 18-15 19-18 19-18 19-18 19-18 19-18 19-19 19-19 19-18 19-19 19-19 18-19 19-19 19-19 19-19 19-19 19-19 19-20 19-22 19-23 19-22 19-23 18-22 19-23 19-21 19-22 19-22 19-21 19-22 19-21 19-21 19-20 19-11 18-5 19-5 19-4M813 1842l19-39 19-34 19-30 19-28 19-27 18-24 19-23 19-22 19-21 19-20 19-19 19-19 19-18 19-18 19-17 19-17 18-17 19-16 19-17 19-16 19-15 19-16 19-15 19-15 19-15 19-15 19-15 18-15 19-15 19-15 19-15 19-15 19-15 19-16 19-15 19-16 19-27 19-19 18-12 19-12 19-13 19-15 19-16 19-16 19-18 19-18 19-18 19-18 19-19 19-18 18-19 19-19 19-18 19-19 19-19 19-19 19-19 19-19 19-19 19-19 19-19 18-23 19-22 19-22 19-23 19-22 19-23 19-21 19-22 19-21 19-22 19-21 18-21 19-21 19-21 19-9 19-6 19-4 19-4M794 1830l19-38 18-34 19-30 19-28 19-26 19-24 19-23 19-21 19-21 19-20 19-19 19-19 18-18 19-18 19-17 19-17 19-17 19-16 19-17 19-16 19-15 19-16 19-15 18-15 19-15 19-15 19-15 19-15 19-15 19-15 19-16 19-15 19-15 19-16 18-15 19-16 19-22 19-16 19-14 19-14 19-15 19-16 19-16 19-17 19-17 18-18 19-19 19-18 19-18 19-19 19-18 19-19 19-18 19-19 19-19 19-19 19-19 18-19 19-18 19-19 19-20 19-22 19-22 19-23 19-22 19-22 19-22 19-22 18-22 19-21 19-21 19-21 19-21 19-21 19-21 19-10 19-4 19-5 19-4M774 1818l19-38 19-33 19-30 19-27 19-26 19-24 19-22 19-22 18-20 19-20 19-19 19-19 19-18 19-18 19-17 19-17 19-17 19-16 19-17 18-16 19-16 19-15 19-15 19-15 19-16 19-15 19-15 19-15 19-15 19-15 18-15 19-15 19-16 19-15 19-16 19-16 19-18 19-16 19-15 19-15 19-16 18-16 19-17 19-16 19-18 19-18 19-18 19-18 19-19 19-18 19-18 19-19 18-19 19-18 19-19 19-19 19-19 19-18 19-19 19-19 19-19 19-22 19-23 19-22 18-22 19-22 19-22 19-22 19-21 19-22 19-21 19-21 19-21 19-21 19-20 18-10 19-4 19-5 19-4M755 1804l19-37 19-32 19-30 19-26 18-26 19-23 19-22 19-22 19-20 19-20 19-19 19-18 19-18 19-18 19-17 18-17 19-17 19-16 19-17 19-16 19-16 19-15 19-15 19-16 19-15 19-15 18-15 19-15 19-15 19-16 19-15 19-15 19-15 19-16 19-15 19-16 19-17 18-16 19-15 19-16 19-16 19-17 19-16 19-17 19-17 19-18 19-19 19-18 18-18 19-18 19-19 19-18 19-19 19-18 19-19 19-19 19-18 19-19 19-19 18-19 19-19 19-22 19-22 19-22 19-22 19-23 19-21 19-22 19-21 19-22 19-21 18-21 19-21 19-21 19-20 19-9 19-5 19-4 19-4M736 1788l18-36 19-31 19-28 19-26 19-25 19-23 19-22 19-20 19-21 19-19 19-19 18-19 19-18 19-17 19-17 19-17 19-17 19-16 19-17 19-16 19-16 19-15 18-16 19-15 19-15 19-15 19-16 19-15 19-15 19-15 19-15 19-15 19-16 18-15 19-16 19-16 19-16 19-16 19-16 19-16 19-16 19-16 19-17 19-16 18-18 19-18 19-18 19-18 19-18 19-19 19-18 19-18 19-19 19-18 19-19 18-19 19-18 19-19 19-19 19-18 19-19 19-22 19-22 19-23 19-22 19-22 18-22 19-21 19-21 19-22 19-21 19-21 19-21 19-21 19-20 19-9 19-4 19-4 18-4M716 1772l19-34 19-30 19-28 19-25 19-24 19-22 19-22 18-20 19-20 19-20 19-18 19-19 19-18 19-17 19-17 19-17 19-17 19-17 18-16 19-16 19-16 19-15 19-16 19-15 19-15 19-16 19-15 19-15 19-15 18-16 19-15 19-15 19-16 19-15 19-16 19-16 19-16 19-15 19-16 19-16 18-17 19-16 19-16 19-17 19-17 19-18 19-18 19-19 19-18 19-18 19-18 18-19 19-18 19-19 19-18 19-19 19-18 19-19 19-18 19-19 19-19 19-22 18-22 19-22 19-22 19-22 19-22 19-21 19-22 19-21 19-21 19-21 19-21 18-21 19-21 19-9 19-3 19-4 19-3M697 1756l19-33 19-29 19-26 18-25 19-23 19-22 19-21 19-20 19-20 19-19 19-19 19-18 19-18 19-17 18-17 19-17 19-17 19-17 19-16 19-16 19-16 19-16 19-15 19-15 19-16 18-15 19-15 19-16 19-15 19-15 19-15 19-16 19-15 19-16 19-15 19-16 18-16 19-16 19-16 19-16 19-16 19-16 19-17 19-16 19-18 19-18 19-18 18-18 19-18 19-18 19-19 19-18 19-18 19-19 19-18 19-19 19-18 19-19 18-18 19-18 19-19 19-22 19-22 19-23 19-22 19-22 19-21 19-22 19-21 18-21 19-22 19-21 19-21 19-21 19-20 19-9 19-4 19-3 19-3M677 1739l19-30 19-28 19-26 19-24 19-22 19-22 19-21 19-19 19-20 19-19 18-18 19-18 19-18 19-17 19-17 19-17 19-17 19-17 19-16 19-17 19-15 18-16 19-15 19-16 19-15 19-15 19-16 19-15 19-15 19-16 19-15 19-15 18-16 19-15 19-16 19-16 19-16 19-16 19-16 19-16 19-16 19-16 19-16 18-17 19-18 19-17 19-18 19-18 19-19 19-18 19-18 19-18 19-18 19-19 18-18 19-19 19-18 19-18 19-19 19-18 19-19 19-22 19-22 19-22 19-22 18-22 19-22 19-21 19-22 19-21 19-21 19-21 19-21 19-21 19-21 19-9 18-3 19-3 19-3M658 1723l19-29 19-27 19-24 19-23 19-23 19-21 18-20 19-19 19-20 19-18 19-19 19-18 19-17 19-17 19-17 19-17 19-17 18-17 19-16 19-17 19-15 19-16 19-15 19-16 19-15 19-16 19-15 19-15 18-16 19-15 19-15 19-16 19-15 19-16 19-16 19-16 19-15 19-16 19-16 18-16 19-16 19-17 19-16 19-16 19-18 19-18 19-18 19-18 19-18 19-18 18-18 19-18 19-19 19-18 19-18 19-19 19-18 19-18 19-19 19-18 19-19 18-22 19-22 19-22 19-22 19-22 19-22 19-21 19-21 19-22 19-21 19-21 18-21 19-21 19-21 19-9 19-3 19-3 19-3M639 1707l19-28 18-25 19-24 19-22 19-22 19-20 19-20 19-20 19-18 19-19 19-18 19-18 19-17 18-17 19-18 19-16 19-17 19-17 19-16 19-17 19-16 19-15 19-16 19-15 18-16 19-15 19-15 19-16 19-15 19-16 19-15 19-15 19-16 19-16 19-15 18-16 19-16 19-16 19-16 19-16 19-16 19-16 19-17 19-16 19-17 19-18 18-18 19-18 19-18 19-18 19-18 19-19 19-18 19-18 19-18 19-19 19-18 18-18 19-18 19-19 19-18 19-22 19-22 19-22 19-22 19-22 19-22 19-22 18-21 19-22 19-21 19-21 19-21 19-21 19-21 19-9 19-3 19-3 19-2M619 1691l19-27 19-24 19-23 19-21 19-21 19-20 19-20 19-19 18-18 19-18 19-18 19-18 19-17 19-18 19-17 19-17 19-16 19-17 19-17 19-16 18-16 19-15 19-16 19-15 19-16 19-15 19-16 19-15 19-16 19-15 19-16 18-15 19-16 19-15 19-16 19-16 19-16 19-16 19-16 19-16 19-16 19-16 18-16 19-16 19-18 19-18 19-18 19-18 19-18 19-18 19-18 19-18 19-18 18-18 19-18 19-19 19-18 19-18 19-18 19-18 19-19 19-22 19-22 19-22 18-22 19-22 19-22 19-22 19-21 19-22 19-21 19-21 19-22 19-21 19-21 18-8 19-3 19-3 19-2M600 1675l19-25 19-23 19-22 19-21 18-20 19-20 19-19 19-19 19-18 19-18 19-18 19-17 19-18 19-17 19-17 18-17 19-16 19-17 19-17 19-16 19-16 19-16 19-15 19-16 19-15 19-16 19-15 18-16 19-15 19-16 19-15 19-16 19-15 19-16 19-16 19-15 19-16 19-16 18-16 19-16 19-16 19-16 19-17 19-16 19-17 19-18 19-18 19-18 19-18 18-18 19-18 19-18 19-18 19-18 19-18 19-19 19-18 19-18 19-18 19-18 18-19 19-22 19-22 19-22 19-22 19-22 19-22 19-22 19-21 19-22 19-21 18-22 19-21 19-21 19-22 19-8 19-2 19-3 19-2M581 1659l18-23 19-22 19-21 19-21 19-19 19-19 19-19 19-19 19-18 19-17 19-18 18-18 19-17 19-17 19-17 19-17 19-16 19-17 19-17 19-16 19-16 19-16 18-15 19-16 19-15 19-16 19-16 19-15 19-16 19-15 19-16 19-15 19-16 19-16 18-15 19-16 19-16 19-16 19-16 19-16 19-16 19-16 19-16 19-16 19-18 18-18 19-17 19-18 19-18 19-18 19-18 19-18 19-18 19-18 19-18 19-19 18-18 19-18 19-18 19-18 19-18 19-23 19-22 19-22 19-22 19-22 19-22 18-22 19-21 19-22 19-21 19-22 19-21 19-22 19-21 19-8 19-3 19-2 18-2M561 1644l19-22 19-21 19-21 19-19 19-19 19-19 19-18 18-19 19-17 19-18 19-18 19-17 19-17 19-17 19-17 19-17 19-17 19-16 18-17 19-17 19-15 19-16 19-16 19-15 19-16 19-15 19-16 19-15 19-16 18-16 19-15 19-16 19-15 19-16 19-16 19-16 19-15 19-16 19-16 19-16 19-16 18-16 19-16 19-17 19-17 19-18 19-18 19-18 19-18 19-18 19-17 19-18 18-18 19-19 19-18 19-18 19-18 19-18 19-18 19-18 19-18 19-22 19-23 18-22 19-22 19-22 19-22 19-22 19-21 19-22 19-22 19-21 19-22 19-22 18-21 19-8 19-2 19-2 19-2M542 1628l19-21 19-20 19-19 18-19 19-19 19-18 19-18 19-18 19-17 19-18 19-17 19-17 19-17 19-17 18-17 19-17 19-17 19-16 19-17 19-17 19-16 19-15 19-16 19-16 19-15 18-16 19-15 19-16 19-15 19-16 19-16 19-15 19-16 19-16 19-15 19-16 18-16 19-16 19-16 19-16 19-16 19-16 19-16 19-16 19-18 19-17 19-18 19-18 18-18 19-18 19-18 19-18 19-18 19-18 19-18 19-18 19-18 19-18 19-18 18-18 19-18 19-22 19-22 19-23 19-22 19-22 19-22 19-22 19-22 19-21 18-22 19-22 19-22 19-21 19-22 19-8 19-2 19-2 19-2M522 1613l19-20 19-19 19-18 19-19 19-18 19-17 19-18 19-18 19-17 19-17 18-17 19-18 19-17 19-17 19-16 19-17 19-17 19-17 19-16 19-17 19-16 18-15 19-16 19-16 19-15 19-16 19-16 19-15 19-16 19-16 19-15 19-16 18-16 19-15 19-16 19-16 19-16 19-15 19-16 19-16 19-16 19-16 19-16 18-17 19-17 19-18 19-18 19-17 19-18 19-18 19-18 19-18 19-18 19-18 19-18 18-18 19-18 19-18 19-17 19-18 19-19 19-22 19-22 19-22 19-23 19-22 18-22 19-22 19-22 19-22 19-22 19-22 19-21 19-22 19-22 19-8 19-2 18-1 19-2M1665 2185l-19-2-19-1-20 0-19 0-20 0-19 0-19 1-20-4-19-7-19-6-20-7-19-6-20-7-19-6-19-8-20-9-19-9-19-9-20-9-19-9-19-9-20-9-19-9-20-9-19-9-19-10-20-10-19-10-19-10-20-10-19-10-20-10-19-10-19-10-20-10-19-10-19-10-20-10-19-10-20-11-19-12-19-12-20-12-19-13-19-12-20-12-19-14-19-16-20-16-19-16-20-17-19-16-19-16-20-16-19-16-19-16-20-15-19-16-20-15M1684 2165l-19-3-20-3-19-3-19-2-20-2-19-2-19-2-20-5-19-7-20-8-19-7-19-7-20-7-19-8-19-8-20-9-19-9-19-10-20-9-19-9-20-9-19-9-19-9-20-10-19-9-19-10-20-10-19-10-20-10-19-10-19-10-20-10-19-10-19-10-20-9-19-10-19-10-20-10-19-10-20-11-19-11-19-12-20-11-19-12-19-11-20-12-19-13-20-15-19-14-19-15-20-14-19-15-19-15-20-15-19-14-20-14-19-14-19-15-20-14M1703 2147l-19-5-20-5-19-4-19-4-20-4-19-3-19-4-20-6-19-8-20-8-19-8-19-8-20-8-19-8-19-9-20-9-19-9-20-10-19-9-19-9-20-10-19-9-19-9-20-10-19-9-20-10-19-10-19-10-20-10-19-10-19-10-20-10-19-10-19-9-20-10-19-10-20-10-19-10-19-9-20-11-19-11-19-11-20-11-19-11-20-11-19-11-19-12-20-14-19-13-19-14-20-13-19-14-20-13-19-14-19-13-20-13-19-13-19-14-20-13M1722 2129l-19-6-20-6-19-6-19-5-20-5-19-5-20-5-19-8-19-8-20-8-19-9-19-8-20-9-19-8-20-9-19-10-19-9-20-10-19-9-19-10-20-9-19-10-19-9-20-10-19-9-20-10-19-10-19-10-20-10-19-10-19-10-20-9-19-10-20-10-19-10-19-9-20-10-19-10-19-10-20-10-19-10-20-11-19-11-19-10-20-11-19-11-19-12-20-12-19-13-19-12-20-13-19-12-20-13-19-13-19-12-20-12-19-13-19-12-20-12M1741 2110l-19-7-20-7-19-6-20-7-19-6-19-6-20-6-19-8-19-9-20-9-19-9-20-8-19-9-19-9-20-9-19-10-19-10-20-9-19-10-19-9-20-10-19-10-20-9-19-10-19-10-20-9-19-10-19-10-20-10-19-10-20-10-19-9-19-10-20-10-19-9-19-10-20-10-19-9-20-10-19-10-19-10-20-11-19-10-19-10-20-11-19-10-19-11-20-12-19-12-20-12-19-12-19-11-20-12-19-12-19-12-20-12-19-11-20-12-19-12M1760 2089l-20-7-19-8-19-7-20-7-19-7-19-7-20-7-19-9-19-9-20-9-19-9-20-9-19-9-19-9-20-9-19-10-19-10-20-9-19-10-20-10-19-10-19-9-20-10-19-9-19-10-20-10-19-10-20-10-19-9-19-10-20-10-19-10-19-9-20-10-19-9-19-10-20-10-19-9-20-10-19-9-19-11-20-10-19-10-19-10-20-10-19-10-20-11-19-11-19-11-20-11-19-11-19-12-20-11-19-11-20-11-19-11-19-11-20-12-19-11M1779 2069l-20-8-19-8-19-8-20-8-19-7-19-8-20-8-19-8-20-10-19-9-19-9-20-9-19-10-19-9-20-9-19-10-20-10-19-10-19-9-20-10-19-10-19-10-20-9-19-10-20-10-19-9-19-10-20-10-19-10-19-9-20-10-19-10-19-9-20-10-19-9-20-10-19-9-19-10-20-9-19-10-19-10-20-9-19-10-20-10-19-10-19-10-20-10-19-11-19-10-20-11-19-11-19-11-20-10-19-11-20-11-19-10-19-11-20-11-19-10M1798 2049l-20-8-19-9-19-8-20-8-19-8-20-9-19-8-19-9-20-9-19-10-19-9-20-9-19-10-20-9-19-10-19-10-20-10-19-9-19-10-20-10-19-10-19-9-20-10-19-10-20-9-19-10-19-10-20-10-19-9-19-10-20-9-19-10-20-10-19-9-19-9-20-10-19-9-19-10-20-9-19-9-20-10-19-10-19-9-20-10-19-10-19-9-20-10-19-11-19-10-20-10-19-11-20-10-19-10-19-11-20-10-19-10-19-10-20-11-19-10M1817 2029l-20-8-19-9-20-9-19-8-19-9-20-9-19-8-19-9-20-10-19-9-20-10-19-9-19-10-20-9-19-10-19-10-20-10-19-10-19-9-20-10-19-10-20-10-19-9-19-10-20-10-19-9-19-10-20-10-19-9-20-10-19-10-19-9-20-9-19-10-19-9-20-10-19-9-19-9-20-10-19-9-20-9-19-10-19-9-20-10-19-9-19-10-20-10-19-9-20-10-19-10-19-10-20-10-19-11-19-10-20-10-19-10-20-10-19-10-19-10M1835 2010l-19-9-19-9-20-9-19-9-19-9-20-9-19-9-19-9-20-9-19-10-20-10-19-9-19-10-20-10-19-9-19-10-20-10-19-10-20-10-19-9-19-10-20-10-19-10-19-9-20-10-19-10-20-9-19-10-19-9-20-10-19-10-19-9-20-9-19-10-19-9-20-9-19-10-20-9-19-9-19-9-20-10-19-9-19-9-20-10-19-9-20-9-19-10-19-10-20-9-19-10-19-10-20-10-19-9-20-10-19-10-19-10-20-9-19-10-19-10M1854 1990l-19-9-19-9-20-9-19-9-19-9-20-9-19-9-20-10-19-9-19-10-20-10-19-9-19-10-20-10-19-10-20-9-19-10-19-10-20-10-19-10-19-10-20-9-19-10-19-10-20-9-19-10-20-10-19-9-19-10-20-9-19-10-19-9-20-9-19-10-20-9-19-9-19-9-20-10-19-9-19-9-20-9-19-9-20-10-19-9-19-9-20-9-19-10-19-9-20-10-19-9-19-10-20-9-19-10-20-9-19-10-19-9-20-10-19-10-19-9M1873 1971l-19-9-19-9-20-10-19-9-20-9-19-9-19-10-20-9-19-10-19-10-20-9-19-10-20-10-19-9-19-10-20-10-19-10-19-10-20-10-19-9-19-10-20-10-19-10-20-9-19-10-19-9-20-10-19-10-19-9-20-9-19-10-20-9-19-10-19-9-20-9-19-9-19-9-20-10-19-9-20-9-19-9-19-9-20-9-19-9-19-9-20-9-19-10-19-9-20-9-19-10-20-9-19-10-19-9-20-9-19-10-19-9-20-10-19-9-20-9M1892 1952l-19-9-20-10-19-9-19-9-20-10-19-9-19-10-20-9-19-10-19-10-20-9-19-10-20-10-19-10-19-9-20-10-19-10-19-10-20-10-19-9-20-10-19-10-19-9-20-10-19-10-19-9-20-10-19-9-20-10-19-9-19-10-20-9-19-9-19-9-20-10-19-9-19-9-20-9-19-9-20-9-19-9-19-9-20-9-19-9-19-9-20-9-19-9-20-10-19-9-19-9-20-9-19-10-19-9-20-9-19-9-20-10-19-9-19-9-20-10M1911 1934l-19-9-20-10-19-9-19-9-20-10-19-9-19-10-20-9-19-10-20-10-19-10-19-10-20-9-19-10-19-10-20-10-19-10-20-9-19-10-19-10-20-10-19-9-19-10-20-10-19-9-20-10-19-9-19-10-20-9-19-10-19-9-20-9-19-10-19-9-20-9-19-9-20-9-19-9-19-9-20-9-19-9-19-9-20-9-19-9-20-9-19-9-19-9-20-10-19-9-19-9-20-9-19-9-19-9-20-9-19-10-20-9-19-9-19-9-20-10M1930 1918l-19-10-20-9-19-10-19-9-20-10-19-9-20-10-19-10-19-9-20-10-19-10-19-10-20-10-19-9-20-10-19-10-19-10-20-10-19-10-19-9-20-10-19-10-19-10-20-9-19-10-20-9-19-10-19-9-20-10-19-9-19-10-20-9-19-9-20-9-19-10-19-9-20-9-19-9-19-9-20-9-19-9-20-9-19-9-19-9-20-9-19-9-19-9-20-9-19-9-19-9-20-9-19-9-20-9-19-10-19-9-20-9-19-9-19-9-20-10M1949 1901l-19-9-20-10-19-9-20-10-19-10-19-9-20-10-19-10-19-9-20-10-19-10-20-10-19-10-19-10-20-9-19-10-19-10-20-10-19-10-19-10-20-9-19-10-20-10-19-9-19-10-20-10-19-9-19-10-20-9-19-9-20-10-19-9-19-9-20-10-19-9-19-9-20-9-19-9-19-9-20-9-19-9-20-9-19-9-19-9-20-9-19-9-19-9-20-9-19-9-20-9-19-9-19-9-20-10-19-9-19-9-20-9-19-9-20-9-19-9M1968 1885l-20-10-19-9-19-10-20-10-19-9-19-10-20-10-19-9-19-10-20-10-19-10-20-10-19-10-19-9-20-10-19-10-19-10-20-10-19-10-20-9-19-10-19-10-20-9-19-10-19-10-20-9-19-10-20-9-19-10-19-9-20-10-19-9-19-9-20-9-19-10-19-9-20-9-19-9-20-9-19-9-19-9-20-9-19-9-19-9-20-9-19-9-20-9-19-9-19-9-20-9-19-9-19-9-20-9-19-10-20-9-19-9-19-9-20-9-19-9M1987 1868l-20-9-19-10-19-9-20-10-19-10-19-10-20-9-19-10-20-10-19-10-19-9-20-10-19-10-19-10-20-10-19-10-20-9-19-10-19-10-20-10-19-10-19-9-20-10-19-10-19-9-20-10-19-9-20-10-19-9-19-10-20-9-19-9-19-10-20-9-19-9-20-9-19-9-19-10-20-9-19-9-19-9-20-9-19-9-20-9-19-9-19-9-20-9-19-9-19-9-20-9-19-9-19-9-20-9-19-9-20-9-19-9-19-10-20-9-19-9M2006 1852l-20-10-19-9-19-10-20-10-19-9-20-10-19-10-19-9-20-10-19-10-19-10-20-10-19-9-20-10-19-10-19-10-20-10-19-10-19-9-20-10-19-10-19-10-20-9-19-10-20-9-19-10-19-10-20-9-19-10-19-9-20-9-19-10-20-9-19-9-19-9-20-10-19-9-19-9-20-9-19-9-20-9-19-9-19-9-20-9-19-9-19-9-20-9-19-9-19-10-20-9-19-9-20-9-19-9-19-9-20-9-19-9-19-9-20-9-19-10M2025 1836l-20-10-19-9-20-10-19-10-19-9-20-10-19-10-19-10-20-9-19-10-19-10-20-10-19-10-20-9-19-10-19-10-20-10-19-10-19-9-20-10-19-10-20-10-19-9-19-10-20-9-19-10-19-10-20-9-19-10-20-9-19-9-19-10-20-9-19-9-19-10-20-9-19-9-19-9-20-9-19-9-20-9-19-10-19-9-20-9-19-9-19-9-20-9-19-9-20-9-19-9-19-9-20-9-19-9-19-10-20-9-19-9-20-9-19-9-19-9M2043 1820l-19-10-19-10-20-9-19-10-19-10-20-9-19-10-19-10-20-10-19-9-20-10-19-10-19-10-20-9-19-10-19-10-20-10-19-10-20-9-19-10-19-10-20-9-19-10-19-10-20-9-19-10-20-9-19-10-19-9-20-10-19-9-19-10-20-9-19-9-19-9-20-10-19-9-20-9-19-9-19-9-20-10-19-9-19-9-20-9-19-9-20-9-19-9-19-9-20-9-19-9-19-10-20-9-19-9-19-9-20-9-19-9-20-10-19-9-19-9M2062 1803l-19-9-19-10-20-9-19-10-19-10-20-9-19-10-20-10-19-9-19-10-20-10-19-10-19-9-20-10-19-10-20-10-19-9-19-10-20-10-19-9-19-10-20-10-19-9-19-10-20-10-19-9-20-10-19-9-19-10-20-9-19-9-19-10-20-9-19-9-20-10-19-9-19-9-20-9-19-10-19-9-20-9-19-9-20-9-19-9-19-9-20-10-19-9-19-9-20-9-19-9-19-9-20-9-19-10-20-9-19-9-19-9-20-9-19-10-19-9M2081 1787l-19-9-19-10-20-9-19-10-20-10-19-9-19-10-20-10-19-9-19-10-20-10-19-9-20-10-19-10-19-9-20-10-19-10-19-9-20-10-19-10-19-9-20-10-19-10-20-9-19-10-19-9-20-10-19-9-19-10-20-9-19-9-20-10-19-9-19-9-20-10-19-9-19-9-20-10-19-9-19-9-20-9-19-9-20-9-19-10-19-9-20-9-19-9-19-9-20-9-19-10-20-9-19-9-19-9-20-9-19-10-19-9-20-9-19-9-20-9M2100 1771l-19-9-20-10-19-9-19-10-20-10-19-9-19-10-20-9-19-10-19-10-20-9-19-10-20-10-19-9-19-10-20-9-19-10-19-10-20-9-19-10-20-10-19-9-19-10-20-9-19-10-19-9-20-10-19-9-20-10-19-9-19-9-20-10-19-9-19-9-20-10-19-9-19-9-20-10-19-9-20-9-19-9-19-9-20-10-19-9-19-9-20-9-19-9-20-10-19-9-19-9-20-9-19-9-19-10-20-9-19-9-20-9-19-10-19-9-20-9M2119 1755l-19-9-20-10-19-9-19-10-20-9-19-10-19-10-20-9-19-10-20-9-19-10-19-9-20-10-19-10-19-9-20-10-19-9-20-10-19-9-19-10-20-10-19-9-19-10-20-9-19-10-19-9-20-9-19-10-20-9-19-10-19-9-20-10-19-9-19-9-20-10-19-9-20-9-19-9-19-10-20-9-19-9-19-9-20-10-19-9-20-9-19-9-19-10-20-9-19-9-19-9-20-10-19-9-19-9-20-9-19-10-20-9-19-9-19-10-20-9M2138 1739l-19-9-20-10-19-9-19-10-20-9-19-10-20-9-19-10-19-9-20-10-19-9-19-10-20-9-19-10-20-9-19-10-19-9-20-10-19-9-19-10-20-9-19-10-19-9-20-10-19-9-20-10-19-9-19-10-20-9-19-9-19-10-20-9-19-10-20-9-19-9-19-10-20-9-19-9-19-10-20-9-19-9-20-9-19-10-19-9-20-9-19-10-19-9-20-9-19-9-19-10-20-9-19-9-20-10-19-9-19-9-20-9-19-10-19-9-20-9M2157 1723l-19-9-20-10-19-9-20-10-19-9-19-10-20-9-19-9-19-10-20-9-19-10-19-9-20-10-19-9-20-10-19-9-19-10-20-9-19-9-19-10-20-9-19-10-20-9-19-10-19-9-20-9-19-10-19-9-20-10-19-9-20-9-19-10-19-9-20-10-19-9-19-9-20-10-19-9-19-9-20-10-19-9-20-9-19-10-19-9-20-9-19-10-19-9-20-9-19-10-20-9-19-9-19-10-20-9-19-9-19-10-20-9-19-9-20-10-19-9M2176 1707l-20-9-19-10-19-9-20-9-19-10-19-9-20-10-19-9-19-9-20-10-19-9-20-10-19-9-19-9-20-10-19-9-19-10-20-9-19-9-20-10-19-9-19-10-20-9-19-9-19-10-20-9-19-10-20-9-19-9-19-10-20-9-19-9-19-10-20-9-19-10-19-9-20-9-19-10-20-9-19-10-19-9-20-9-19-10-19-9-20-9-19-10-20-9-19-10-19-9-20-9-19-10-19-9-20-9-19-10-19-9-20-10-19-9-20-9-19-10M2195 1691l-20-9-19-10-19-9-20-9-19-10-19-9-20-9-19-10-20-9-19-9-19-10-20-9-19-9-19-10-20-9-19-9-20-10-19-9-19-9-20-10-19-9-19-9-20-10-19-9-19-9-20-10-19-9-20-10-19-9-19-9-20-10-19-9-19-9-20-10-19-9-20-10-19-9-19-9-20-10-19-9-19-10-20-9-19-10-20-9-19-9-19-10-20-9-19-10-19-9-20-10-19-9-19-9-20-10-19-9-20-10-19-9-19-9-20-10-19-9M2214 1675l-20-9-19-10-19-9-20-9-19-9-20-10-19-9-19-9-20-10-19-9-19-9-20-9-19-10-20-9-19-9-19-9-20-10-19-9-19-9-20-10-19-9-19-9-20-9-19-10-20-9-19-9-19-10-20-9-19-10-19-9-20-9-19-10-20-9-19-9-19-10-20-9-19-10-19-9-20-10-19-9-19-10-20-9-19-9-20-10-19-9-19-10-20-9-19-10-19-9-20-10-19-9-20-10-19-9-19-10-20-9-19-10-19-9-20-9-19-10M2233 1659l-20-9-19-9-20-10-19-9-19-9-20-9-19-10-19-9-20-9-19-9-19-9-20-10-19-9-20-9-19-9-19-10-20-9-19-9-19-9-20-9-19-10-20-9-19-9-19-10-20-9-19-9-19-9-20-10-19-9-20-10-19-9-19-9-20-10-19-9-19-10-20-9-19-9-19-10-20-9-19-10-20-9-19-10-19-9-20-10-19-9-19-10-20-10-19-9-20-10-19-9-19-10-20-9-19-10-19-9-20-10-19-9-20-10-19-9-19-10M2251 1643l-19-9-19-9-20-10-19-9-19-9-20-9-19-9-19-9-20-10-19-9-20-9-19-9-19-9-20-9-19-10-19-9-20-9-19-9-20-9-19-9-19-10-20-9-19-9-19-9-20-10-19-9-19-9-20-10-19-9-20-9-19-10-19-9-20-9-19-10-19-9-20-10-19-9-20-10-19-9-19-10-20-9-19-10-19-9-20-10-19-10-20-9-19-10-19-9-20-10-19-9-19-10-20-9-19-10-19-10-20-9-19-10-20-9-19-10-19-9M2270 1627l-19-9-19-9-20-10-19-9-19-9-20-9-19-9-20-9-19-9-19-9-20-9-19-10-19-9-20-9-19-9-20-9-19-9-19-9-20-9-19-9-19-10-20-9-19-9-19-9-20-9-19-10-20-9-19-9-19-10-20-9-19-9-19-10-20-9-19-10-20-9-19-10-19-9-20-10-19-9-19-10-20-9-19-10-20-9-19-10-19-10-20-9-19-10-19-9-20-10-19-10-19-9-20-10-19-9-20-10-19-10-19-9-20-10-19-9-19-10M2289 1610l-19-9-19-9-20-9-19-9-20-9-19-9-19-9-20-9-19-9-19-9-20-9-19-10-19-9-20-9-19-9-20-9-19-9-19-9-20-9-19-9-19-9-20-9-19-9-20-10-19-9-19-9-20-9-19-9-19-10-20-9-19-9-20-10-19-9-19-10-20-9-19-10-19-9-20-10-19-9-19-10-20-10-19-9-20-10-19-9-19-10-20-10-19-9-19-10-20-10-19-9-20-10-19-9-19-10-20-10-19-9-19-10-20-9-19-10-20-10M2308 1593l-19-9-20-9-19-9-19-9-20-9-19-9-19-9-20-9-19-9-19-9-20-9-19-9-20-9-19-9-19-9-20-9-19-9-19-9-20-9-19-9-20-9-19-9-19-9-20-9-19-9-19-10-20-9-19-9-20-9-19-10-19-9-20-9-19-10-19-9-20-10-19-9-19-10-20-9-19-10-20-9-19-10-19-10-20-9-19-10-19-10-20-9-19-10-20-9-19-10-19-10-20-9-19-10-19-10-20-9-19-10-19-10-20-9-19-10-20-9M2327 1576l-19-9-20-9-19-9-19-9-20-9-19-9-19-9-20-9-19-9-20-9-19-9-19-8-20-9-19-9-19-9-20-9-19-9-20-9-19-9-19-9-20-9-19-9-19-9-20-9-19-9-19-9-20-9-19-10-20-9-19-9-19-10-20-9-19-9-19-10-20-9-19-10-20-9-19-10-19-9-20-10-19-10-19-9-20-10-19-9-20-10-19-10-19-9-20-10-19-10-19-9-20-10-19-10-19-9-20-10-19-10-20-9-19-10-19-9-20-10M2346 1558l-19-8-20-9-19-9-19-9-20-9-19-9-20-9-19-9-19-9-20-8-19-9-19-9-20-9-19-9-20-9-19-8-19-9-20-9-19-9-19-9-20-9-19-9-19-9-20-9-19-9-20-9-19-9-19-10-20-9-19-9-19-9-20-10-19-9-20-9-19-10-19-9-20-10-19-9-19-10-20-10-19-9-19-10-20-10-19-9-20-10-19-10-19-9-20-10-19-10-19-9-20-10-19-10-20-9-19-10-19-9-20-10-19-10-19-9-20-10M2365 1541l-19-9-20-9-19-9-20-8-19-9-19-9-20-9-19-9-19-8-20-9-19-9-19-9-20-9-19-8-20-9-19-9-19-9-20-9-19-8-19-9-20-9-19-9-20-10-19-13-19-17-20-12-19-10-19-9-20-9-19-9-20-9-19-10-19-9-20-10-19-9-19-9-20-10-19-10-19-9-20-10-19-9-20-9-19-8-19-7-20-5-19-6-19-8-20-9-19-10-20-9-19-10-19-9-20-10-19-10-19-9-20-10-19-9-20-10-19-10M2384 1524l-20-9-19-9-19-9-20-9-19-8-19-9-20-9-19-9-19-8-20-9-19-9-20-9-19-8-19-9-20-9-19-9-19-8-20-9-19-9-20-9-19-9-19-9-20-10-19-17-19-24-20-16-19-10-19-9-20-9-19-10-20-9-19-9-19-9-20-10-19-9-19-10-20-9-19-10-20-9-19-9-19-9-20-7-19-4-19-1-20-2-19-6-20-8-19-9-19-9-20-10-19-10-19-9-20-10-19-10-19-9-20-10-19-9-20-10-19-9M2403 1506l-20-8-19-9-19-9-20-9-19-9-19-8-20-9-19-9-20-8-19-9-19-9-20-9-19-8-19-9-20-9-19-8-20-9-19-9-19-9-20-8-19-9-19-9-20-12-19-21-19-31-20-19-19-10-20-10-19-9-19-9-20-9-19-10-19-9-20-9-19-10-20-9-19-10-19-9-20-9-19-8-19-6-20-2-19 4-20 2-19-4-19-7-20-8-19-10-19-9-20-10-19-10-19-9-20-10-19-10-20-9-19-10-19-9-20-10-19-9M2422 1489l-20-9-19-9-19-8-20-9-19-9-20-9-19-8-19-9-20-9-19-8-19-9-20-9-19-8-19-9-20-9-19-8-20-9-19-9-19-8-20-9-19-9-19-9-20-12-19-26-20-38-19-22-19-11-20-10-19-9-19-9-20-9-19-9-20-10-19-9-19-9-20-10-19-9-19-9-20-8-19-5-19 1-20 7-19 6-20 0-19-6-19-8-20-9-19-10-19-9-20-10-19-10-20-9-19-10-19-10-20-9-19-10-19-9-20-10-19-9M2441 1471l-20-8-19-9-20-9-19-9-19-8-20-9-19-9-19-8-20-9-19-8-19-9-20-9-19-8-20-9-19-9-19-8-20-9-19-9-19-8-20-9-19-9-20-9-19-13-19-29-20-47-19-24-19-12-20-9-19-10-20-9-19-9-19-9-20-9-19-10-19-9-20-9-19-9-19-8-20-4-19 2-20 11-19 11-19 3-20-4-19-8-19-9-20-9-19-10-20-10-19-9-19-10-20-9-19-10-19-10-20-9-19-10-19-9-20-10-19-9M2460 1454l-20-9-19-9-20-8-19-9-19-9-20-8-19-9-19-9-20-8-19-9-20-8-19-9-19-9-20-8-19-9-19-8-20-9-19-9-20-8-19-9-19-9-20-9-19-14-19-33-20-54-19-28-19-12-20-10-19-9-20-9-19-9-19-9-20-9-19-10-19-9-20-8-19-8-20-4-19 4-19 14-20 16-19 6-19-2-20-7-19-9-20-9-19-10-19-9-20-10-19-9-19-10-20-10-19-9-19-10-20-9-19-10-20-9-19-10-19-9M2478 1436l-19-8-19-9-20-9-19-8-19-9-20-9-19-8-20-9-19-9-19-8-20-9-19-8-19-9-20-8-19-9-20-9-19-8-19-9-20-9-19-8-19-9-20-10-19-14-19-38-20-61-19-31-20-12-19-10-19-9-20-9-19-9-19-9-20-9-19-10-20-8-19-7-19-4-20 5-19 17-19 21-20 10-19 0-19-7-20-8-19-9-20-10-19-9-19-10-20-9-19-10-19-9-20-10-19-10-20-9-19-10-19-9-20-9-19-10-19-9M2497 1419l-19-9-19-9-20-8-19-9-20-9-19-8-19-9-20-8-19-9-19-9-20-8-19-9-19-8-20-9-19-8-20-9-19-9-19-8-20-9-19-9-19-8-20-10-19-15-20-42-19-69-19-33-20-14-19-9-19-9-20-10-19-9-20-9-19-9-19-8-20-7-19-4-19 6-20 20-19 25-19 15-20 2-19-5-20-8-19-9-19-10-20-9-19-10-19-9-20-10-19-9-20-10-19-9-19-10-20-9-19-10-19-9-20-10-19-9-20-10M2516 1401l-19-9-20-8-19-9-19-9-20-8-19-9-19-9-20-8-19-9-19-8-20-9-19-9-20-8-19-9-19-8-20-9-19-9-19-8-20-9-19-9-20-8-19-10-19-16-20-46-19-76-19-37-20-14-19-10-19-9-20-9-19-9-20-9-19-8-19-7-20-4-19 7-19 22-20 30-19 20-20 4-19-4-19-8-20-9-19-9-19-9-20-10-19-9-20-10-19-9-19-10-20-10-19-9-19-9-20-10-19-9-19-10-20-9-19-10-20-9M2535 1383l-19-9-20-8-19-9-19-9-20-8-19-9-19-9-20-8-19-9-20-8-19-9-19-9-20-8-19-9-19-8-20-9-19-9-20-8-19-9-19-9-20-9-19-10-19-16-20-50-19-84-19-40-20-14-19-10-20-9-19-9-19-9-20-9-19-7-19-3-20 7-19 24-20 34-19 25-19 7-20-3-19-7-19-8-20-10-19-9-20-9-19-10-19-9-20-10-19-9-19-10-20-9-19-10-19-9-20-10-19-9-20-10-19-9-19-9-20-10M2554 1365l-19-8-20-9-19-9-19-8-20-9-19-9-20-9-19-8-19-9-20-8-19-9-19-9-20-8-19-9-19-9-20-8-19-9-20-9-19-8-19-9-20-9-19-10-19-17-20-53-19-88-20-42-19-15-19-9-20-9-19-9-19-9-20-7-19-3-20 6-19 24-19 37-20 29-19 10-19-2-20-7-19-8-19-9-20-10-19-9-20-10-19-9-19-10-20-9-19-9-19-10-20-9-19-10-20-9-19-10-19-9-20-9-19-10-19-9-20-10M2573 1348l-19-9-20-9-19-9-20-8-19-9-19-9-20-9-19-8-19-9-20-9-19-8-19-9-20-9-19-8-20-9-19-9-19-8-20-9-19-9-19-9-20-8-19-10-20-16-19-46-19-75-20-36-19-14-19-10-20-9-19-8-20-8-19-5-19 3-20 17-19 29-19 24-20 8-19-2-19-7-20-8-19-9-20-10-19-9-19-9-20-10-19-9-19-10-20-9-19-10-20-9-19-9-19-10-20-9-19-10-19-9-20-9-19-10-19-9-20-9M2592 1330l-19-9-20-9-19-9-20-8-19-9-19-9-20-9-19-8-19-9-20-9-19-8-20-9-19-9-19-9-20-8-19-9-19-9-20-9-19-8-20-9-19-9-19-10-20-13-19-33-19-54-20-27-19-13-19-9-20-9-19-8-20-6-19-2-19 7-20 16-19 14-19 4-20-4-19-8-20-8-19-10-19-9-20-9-19-9-19-10-20-9-19-10-20-9-19-9-19-10-20-9-19-10-19-9-20-9-19-10-19-9-20-9-19-10-20-9-19-9M2611 1312l-20-9-19-9-19-9-20-8-19-9-19-9-20-9-19-9-20-8-19-9-19-9-20-9-19-8-19-9-20-9-19-9-20-8-19-9-19-9-20-9-19-9-19-9-20-11-19-22-19-33-20-19-19-11-20-9-19-9-19-7-20-6-19-1-19 4-20 4-19-2-20-6-19-8-19-9-20-9-19-9-19-9-20-10-19-9-19-9-20-10-19-9-20-9-19-10-19-9-20-9-19-10-19-9-20-9-19-10-20-9-19-9-19-10-20-9-19-9M2630 1294l-20-9-19-9-19-9-20-8-19-9-20-9-19-9-19-9-20-9-19-8-19-9-20-9-19-9-19-9-20-8-19-9-20-9-19-9-19-9-20-9-19-9-19-9-20-10-19-14-20-19-19-14-19-9-20-9-19-9-19-7-20-6-19-4-20-3-19-6-19-8-20-8-19-9-19-9-20-10-19-9-19-9-20-9-19-10-20-9-19-9-19-9-20-10-19-9-19-9-20-10-19-9-20-9-19-9-19-10-20-9-19-9-19-9-20-10-19-9M2649 1276l-20-9-19-9-20-9-19-9-19-8-20-9-19-9-19-9-20-9-19-9-19-9-20-8-19-9-20-9-19-9-19-9-20-9-19-9-19-9-20-8-19-9-20-9-19-10-19-11-20-12-19-11-19-9-20-9-19-8-19-8-20-8-19-7-20-8-19-8-19-9-20-9-19-9-19-9-20-10-19-9-20-9-19-9-19-9-20-10-19-9-19-9-20-9-19-9-20-10-19-9-19-9-20-9-19-10-19-9-20-9-19-9-19-9-20-10-19-9M2668 1258l-20-9-19-9-20-9-19-9-19-9-20-9-19-8-19-9-20-9-19-9-20-9-19-9-19-9-20-9-19-9-19-9-20-9-19-9-20-9-19-8-19-9-20-9-19-10-19-9-20-10-19-9-19-10-20-9-19-8-20-9-19-8-19-9-20-9-19-9-19-9-20-9-19-9-20-9-19-10-19-9-20-9-19-9-19-9-20-9-19-9-20-10-19-9-19-9-20-9-19-9-19-9-20-10-19-9-19-9-20-9-19-9-20-9-19-10-19-9M2686 1240l-19-9-19-9-20-9-19-9-19-9-20-9-19-9-20-9-19-9-19-9-20-9-19-9-19-9-20-9-19-9-19-9-20-9-19-9-20-9-19-9-19-9-20-9-19-9-19-9-20-9-19-9-20-9-19-9-19-9-20-9-19-9-19-9-20-9-19-9-20-9-19-10-19-9-20-9-19-9-19-9-20-9-19-9-19-9-20-9-19-9-20-9-19-9-19-9-20-10-19-9-19-9-20-9-19-9-20-9-19-9-19-9-20-10-19-9-19-9M2705 1222l-19-9-19-9-20-9-19-9-20-9-19-9-19-9-20-9-19-9-19-9-20-9-19-9-19-9-20-9-19-10-20-9-19-9-19-9-20-9-19-9-19-9-20-9-19-9-20-9-19-9-19-9-20-9-19-10-19-9-20-9-19-9-20-9-19-9-19-9-20-9-19-9-19-9-20-9-19-9-19-9-20-9-19-9-20-9-19-9-19-9-20-9-19-9-19-9-20-9-19-9-20-9-19-9-19-9-20-9-19-9-19-9-20-10-19-9-19-9M2724 1204l-19-9-19-9-20-10-19-9-20-9-19-9-19-9-20-9-19-9-19-9-20-9-19-9-20-9-19-9-19-9-20-10-19-9-19-9-20-9-19-9-20-9-19-9-19-9-20-10-19-9-19-9-20-9-19-9-19-9-20-9-19-9-20-9-19-9-19-9-20-9-19-9-19-9-20-9-19-9-20-9-19-9-19-9-20-9-19-9-19-9-20-9-19-9-20-9-19-9-19-9-20-9-19-9-19-9-20-9-19-9-19-9-20-9-19-9-20-9M2743 1185l-19-9-20-9-19-9-19-9-20-9-19-9-19-9-20-9-19-9-20-10-19-9-19-9-20-9-19-9-19-9-20-10-19-9-20-9-19-9-19-9-20-9-19-10-19-9-20-9-19-9-19-9-20-10-19-9-20-9-19-9-19-9-20-9-19-9-19-9-20-9-19-9-20-9-19-9-19-9-20-8-19-9-19-9-20-9-19-9-19-9-20-9-19-8-20-9-19-9-19-9-20-9-19-9-19-9-20-9-19-9-20-9-19-9-19-9-20-9M2762 1167l-19-9-20-9-19-9-19-9-20-9-19-10-20-9-19-9-19-9-20-9-19-9-19-10-20-9-19-9-19-9-20-10-19-9-20-9-19-9-19-10-20-9-19-9-19-9-20-10-19-9-20-9-19-9-19-10-20-9-19-9-19-9-20-9-19-9-20-9-19-9-19-9-20-8-19-9-19-9-20-9-19-9-19-8-20-9-19-9-20-9-19-8-19-9-20-9-19-9-19-9-20-8-19-9-20-9-19-9-19-9-20-9-19-9-19-9-20-9M2781 1149l-19-9-20-9-19-9-20-9-19-10-19-9-20-9-19-9-19-10-20-9-19-9-19-9-20-10-19-9-20-9-19-9-19-10-20-9-19-9-19-10-20-9-19-10-20-9-19-9-19-10-20-9-19-9-19-9-20-10-19-9-19-9-20-9-19-9-20-9-19-9-19-8-20-9-19-9-19-9-20-8-19-9-20-9-19-8-19-9-20-8-19-9-19-9-20-9-19-8-20-9-19-9-19-9-20-8-19-9-19-9-20-9-19-9-19-9-20-8M2800 1131l-19-9-20-9-19-9-20-10-19-9-19-9-20-9-19-10-19-9-20-9-19-10-20-9-19-9-19-10-20-9-19-9-19-10-20-9-19-10-20-9-19-10-19-9-20-10-19-9-19-9-20-10-19-9-19-9-20-10-19-9-20-9-19-9-19-9-20-9-19-9-19-8-20-9-19-9-20-8-19-9-19-8-20-9-19-8-19-9-20-8-19-9-20-9-19-8-19-9-20-8-19-9-19-9-20-9-19-8-19-9-20-9-19-9-20-9-19-8M2819 1113l-20-9-19-9-19-10-20-9-19-9-19-10-20-9-19-9-20-10-19-9-19-9-20-10-19-9-19-10-20-9-19-9-19-10-20-10-19-9-20-10-19-9-19-10-20-9-19-10-19-9-20-10-19-9-20-10-19-9-19-9-20-9-19-9-19-9-20-9-19-9-20-9-19-8-19-9-20-8-19-9-19-8-20-8-19-9-19-8-20-9-19-8-20-9-19-8-19-9-20-8-19-9-19-9-20-8-19-9-20-9-19-8-19-9-20-9-19-9M2838 1095l-20-9-19-10-19-9-20-9-19-10-20-9-19-10-19-9-20-10-19-9-19-10-20-9-19-10-19-9-20-10-19-10-20-9-19-10-19-10-20-9-19-10-19-10-20-10-19-9-20-10-19-10-19-9-20-10-19-9-19-10-20-9-19-9-20-9-19-9-19-9-20-8-19-9-19-9-20-8-19-8-19-9-20-8-19-8-20-9-19-8-19-8-20-9-19-8-19-9-20-8-19-9-20-9-19-8-19-9-20-9-19-9-19-8-20-9-19-9M2857 1077l-20-10-19-9-19-9-20-10-19-9-20-10-19-10-19-9-20-10-19-9-19-10-20-10-19-9-20-10-19-10-19-10-20-9-19-10-19-10-20-10-19-10-20-10-19-10-19-10-20-10-19-10-19-10-20-9-19-10-19-10-20-9-19-9-20-9-19-9-19-9-20-8-19-9-19-8-20-9-19-8-20-8-19-9-19-8-20-8-19-8-19-9-20-8-19-8-20-9-19-8-19-9-20-9-19-8-19-9-20-9-19-9-19-9-20-8-19-9M2876 1059l-20-10-19-9-20-10-19-9-19-10-20-10-19-9-19-10-20-10-19-9-20-10-19-10-19-10-20-10-19-10-19-10-20-10-19-10-20-10-19-10-19-10-20-10-19-11-19-10-20-10-19-10-19-10-20-10-19-10-20-9-19-10-19-9-20-9-19-9-19-9-20-9-19-8-20-8-19-9-19-8-20-8-19-8-19-8-20-8-19-9-19-8-20-8-19-9-20-8-19-9-19-8-20-9-19-8-19-9-20-9-19-9-20-9-19-9-19-8M2894 1041l-19-10-19-9-20-10-19-10-19-10-20-9-19-10-20-10-19-10-19-10-20-9-19-10-19-10-20-10-19-11-19-10-20-10-19-10-20-11-19-10-19-10-20-11-19-10-19-11-20-10-19-10-20-11-19-10-19-10-20-9-19-10-19-9-20-10-19-9-20-8-19-9-19-8-20-9-19-8-19-8-20-8-19-8-19-8-20-8-19-8-20-8-19-8-19-9-20-8-19-9-19-8-20-9-19-8-20-9-19-9-19-9-20-9-19-9-19-9M2913 1023l-19-10-19-10-20-9-19-10-20-10-19-10-19-10-20-10-19-10-19-10-20-10-19-10-19-10-20-10-19-10-20-11-19-10-19-10-20-11-19-11-19-10-20-11-19-11-20-10-19-11-19-11-20-10-19-11-19-10-20-10-19-9-19-10-20-9-19-9-20-9-19-8-19-9-20-8-19-8-19-8-20-8-19-8-20-7-19-8-19-8-20-8-19-9-19-8-20-8-19-9-20-8-19-9-19-8-20-9-19-9-19-9-20-9-19-9-19-9M2932 1006l-19-10-19-10-20-10-19-10-20-10-19-9-19-10-20-10-19-11-19-10-20-10-19-10-20-10-19-11-19-11-20-10-19-10-19-11-20-11-19-11-20-11-19-11-19-11-20-11-19-11-19-11-20-10-19-11-19-10-20-11-19-9-20-10-19-9-19-9-20-9-19-8-19-9-20-8-19-8-20-8-19-7-19-8-20-8-19-8-19-7-20-8-19-8-20-9-19-8-19-8-20-9-19-9-19-8-20-9-19-9-19-9-20-9-19-9-20-9M2951 991l-19-10-20-10-19-10-19-10-20-10-19-10-19-10-20-11-19-10-20-10-19-11-19-10-20-10-19-11-19-12-20-10-19-10-19-11-20-12-19-11-20-11-19-11-19-12-20-11-19-11-19-11-20-11-19-11-20-11-19-10-19-10-20-10-19-10-19-9-20-8-19-9-20-8-19-8-19-8-20-8-19-7-19-8-20-7-19-8-19-8-20-8-19-8-20-8-19-8-19-9-20-8-19-9-19-9-20-9-19-9-20-9-19-9-19-9-20-9M2970 976l-19-10-20-10-19-10-19-11-20-10-19-10-20-10-19-11-19-10-20-11-19-11-19-10-20-10-19-12-19-12-20-10-19-10-20-12-19-12-19-12-20-11-19-11-19-11-20-13-19-11-20-11-19-12-19-11-20-11-19-10-19-11-20-10-19-9-20-9-19-9-19-8-20-9-19-7-19-8-20-8-19-7-19-8-20-7-19-8-20-8-19-7-19-8-20-8-19-9-19-8-20-9-19-8-20-9-19-9-19-9-20-9-19-9-19-10-20-9M2989 961l-19-10-20-10-19-11-19-10-20-10-19-11-20-10-19-11-19-10-20-12-19-11-19-10-20-10-19-13-20-12-19-11-19-10-20-11-19-13-19-13-20-10-19-11-20-12-19-13-19-12-20-11-19-12-19-11-20-11-19-11-19-11-20-10-19-9-20-10-19-8-19-9-20-8-19-8-19-7-20-8-19-7-20-7-19-8-19-7-20-8-19-8-19-8-20-8-19-8-20-8-19-9-19-9-20-9-19-9-19-9-20-9-19-9-19-9-20-10M3008 946l-19-10-20-10-19-11-20-10-19-11-19-11-20-10-19-10-19-12-20-12-19-11-20-9-19-11-19-14-20-13-19-11-19-9-20-11-19-15-20-13-19-10-19-10-20-13-19-14-19-12-20-11-19-12-19-11-20-12-19-11-20-11-19-10-19-10-20-9-19-9-19-8-20-8-19-8-20-7-19-8-19-7-20-7-19-7-19-8-20-7-19-8-19-8-20-8-19-8-20-9-19-8-19-9-20-9-19-9-19-9-20-9-19-10-20-9-19-10M3027 931l-20-10-19-10-19-11-20-11-19-10-19-11-20-11-19-10-20-12-19-13-19-11-20-9-19-11-19-15-20-15-19-10-19-8-20-12-19-16-20-14-19-10-19-9-20-13-19-14-19-13-20-11-19-11-20-13-19-12-19-11-20-10-19-11-19-10-20-9-19-9-20-8-19-8-19-8-20-7-19-7-19-7-20-8-19-7-19-7-20-7-19-8-20-8-19-8-19-8-20-9-19-8-19-9-20-9-19-9-20-10-19-9-19-9-20-10-19-10M3046 917l-20-11-19-10-19-11-20-11-19-11-20-11-19-10-19-11-20-12-19-14-19-12-20-8-19-11-19-17-20-16-19-10-20-6-19-12-19-19-20-15-19-8-19-8-20-14-19-15-20-13-19-10-19-12-20-12-19-13-19-11-20-11-19-10-19-10-20-10-19-9-20-8-19-8-19-7-20-8-19-7-19-7-20-7-19-7-20-7-19-7-19-8-20-8-19-8-19-8-20-9-19-8-20-9-19-9-19-10-20-9-19-9-19-10-20-10-19-9M3065 902l-20-11-19-10-19-11-20-11-19-11-20-12-19-10-19-11-20-13-19-14-19-12-20-8-19-11-20-19-19-18-19-10-20-4-19-12-19-21-20-16-19-7-20-6-19-14-19-17-20-12-19-11-19-11-20-13-19-12-19-12-20-11-19-10-20-11-19-9-19-9-20-8-19-8-19-8-20-7-19-7-20-7-19-7-19-7-20-7-19-7-19-8-20-8-19-8-20-8-19-9-19-8-20-9-19-9-19-10-20-9-19-10-19-10-20-9-19-10M3084 887l-20-10-19-11-20-11-19-11-19-12-20-11-19-11-19-10-20-14-19-16-20-12-19-7-19-11-20-21-19-20-19-9-20-2-19-12-19-24-20-17-19-5-20-5-19-14-19-18-20-13-19-9-19-11-20-14-19-13-20-11-19-11-19-11-20-10-19-10-19-9-20-8-19-8-20-8-19-7-19-7-20-7-19-6-19-7-20-8-19-7-19-7-20-8-19-8-20-9-19-8-19-9-20-9-19-9-19-10-20-10-19-9-20-10-19-10-19-10M3102 873l-19-11-19-10-20-11-19-11-19-12-20-11-19-10-20-11-19-14-19-16-20-13-19-6-19-11-20-22-19-23-19-7-20 0-19-12-20-26-19-18-19-3-20-3-19-15-19-18-20-13-19-9-20-10-19-13-19-13-20-12-19-11-19-10-20-10-19-10-20-9-19-8-19-8-20-7-19-7-19-7-20-6-19-7-19-7-20-6-19-8-20-7-19-7-19-8-20-9-19-8-19-9-20-9-19-9-20-9-19-10-19-9-20-10-19-10-19-10M3121 858l-19-10-19-10-20-11-19-11-19-11-20-11-19-10-20-11-19-14-19-17-20-12-19-6-19-10-20-23-19-24-20-7-19 2-19-12-20-27-19-19-19-1-20-2-19-14-20-19-19-13-19-7-20-10-19-14-19-13-20-11-19-10-19-11-20-10-19-9-20-8-19-8-19-8-20-7-19-6-19-7-20-6-19-7-20-6-19-7-19-6-20-7-19-8-19-7-20-8-19-9-20-8-19-9-19-9-20-9-19-9-19-10-20-9-19-10-19-10M3140 844l-19-10-19-10-20-10-19-11-20-11-19-11-19-10-20-10-19-14-19-17-20-13-19-5-20-9-19-25-19-25-20-6-19 4-19-11-20-29-19-19-20 0-19 0-19-14-20-20-19-12-19-7-20-10-19-13-19-13-20-11-19-10-20-10-19-10-19-9-20-8-19-8-19-7-20-7-19-6-20-7-19-6-19-6-20-6-19-6-19-7-20-7-19-7-19-7-20-8-19-8-20-8-19-9-19-9-20-9-19-9-19-9-20-9-19-10-20-9M3159 831l-19-10-20-10-19-10-19-10-20-11-19-11-19-10-20-9-19-14-20-18-19-12-19-4-20-10-19-24-19-25-20-6-19 5-19-12-20-28-19-19-20 0-19 0-19-14-20-19-19-12-19-7-20-9-19-13-20-13-19-11-19-10-20-10-19-9-19-9-20-8-19-8-20-7-19-6-19-6-20-6-19-6-19-6-20-6-19-6-19-7-20-7-19-7-20-7-19-7-19-8-20-8-19-9-19-8-20-9-19-9-20-9-19-9-19-10-20-9" stroke="url(#sg)" stroke-width="7.199999999999999" fill="none"/>
<path d="M165.8 230.1L317.1 185.8M165.8 230.1L49.6 172.3M49.6 172.3L49.6 47.8M165.8 230.1L169.7 232M203.6 219L207.5 220.9M241.4 207.9L245.3 209.9M279.3 196.9L283.1 198.8M317.1 185.8L320.9 187.7M165.8 230.1L161.7 231.3M127.1 210.8L122.9 212M88.3 191.6L84.2 192.8M49.6 172.3L45.5 173.5M49.6 172.3L45.6 171.2M49.6 147.4L45.6 146.3M49.6 122.5L45.6 121.4M49.6 97.6L45.6 96.5M49.6 72.7L45.6 71.6M49.6 47.8L45.6 46.7" stroke="#6e6e6e" stroke-width="1.15" fill="none"/>
<g class="s" text-anchor="middle" font-size="9" fill="#555"><text x="174.2" y="242.9">0</text><text x="214.3" y="231.8">20</text><text x="252.2" y="221.2">40</text><text x="290.2" y="209.9">60</text><text x="328.2" y="199">80</text><text x="155.8" y="242.1">0</text><text x="115.7" y="222.4">20</text><text x="77.7" y="204">40</text><text x="39.2" y="185.6">60</text></g>
<g class="s" text-anchor="end" font-size="9" fill="#555"><text x="43.3" y="172.8">0</text><text x="43.3" y="147.9">10</text><text x="43.3" y="123">20</text><text x="43.3" y="98.1">30</text><text x="43.3" y="73.2">40</text><text x="43.3" y="48.3">50</text></g>
<text transform="translate(21.4 108.8) rotate(-90)" text-anchor="middle" font-size="16.9" class="r">Phase (rad)</text>
<text transform="translate(81.5 224.6) rotate(26)" text-anchor="middle" font-size="16" class="r"><tspan font-style="italic">y</tspan> (mm)</text>
<text transform="translate(266.8 238) rotate(-16)" text-anchor="middle" font-size="16" class="r"><tspan font-style="italic">x</tspan> (mm)</text>
<text x="170.7" y="265" text-anchor="middle" font-size="15.2" font-weight="bold" class="r">(a)</text>
<rect x="38.9" y="287.0" width="235.7" height="209.2" fill="#fff"/>
<defs><linearGradient id="h0"><stop offset="0" stop-color="#463ee0"/><stop offset=".081" stop-color="#4332c8"/><stop offset=".23" stop-color="#463ee1"/><stop offset=".549" stop-color="#4538d8"/><stop offset=".774" stop-color="#4561fc"/><stop offset=".851" stop-color="#4465fd"/><stop offset=".885" stop-color="#2d8bf3"/><stop offset=".902" stop-color="#2d87f6"/><stop offset=".923" stop-color="#4464fd"/><stop offset=".949" stop-color="#484bee"/><stop offset="1" stop-color="#484ef1"/></linearGradient><linearGradient id="h1"><stop offset="0" stop-color="#463bdc"/><stop offset=".072" stop-color="#412dbc"/><stop offset=".213" stop-color="#463ada"/><stop offset=".438" stop-color="#4536d3"/><stop offset=".532" stop-color="#4434cd"/><stop offset=".745" stop-color="#465cf9"/><stop offset=".855" stop-color="#4465fd"/><stop offset=".889" stop-color="#317efb"/><stop offset=".911" stop-color="#3f6eff"/><stop offset=".945" stop-color="#484aed"/><stop offset=".991" stop-color="#484aed"/><stop offset="1" stop-color="#484cf0"/></linearGradient><linearGradient id="h2"><stop offset="0" stop-color="#4538d8"/><stop offset=".06" stop-color="#402bb5"/><stop offset=".123" stop-color="#412dbb"/><stop offset=".217" stop-color="#4537d5"/><stop offset=".417" stop-color="#4434ce"/><stop offset=".523" stop-color="#4230c3"/><stop offset=".719" stop-color="#4755f6"/><stop offset=".809" stop-color="#4465fd"/><stop offset=".902" stop-color="#4563fd"/><stop offset=".957" stop-color="#4742e6"/><stop offset="1" stop-color="#484aee"/></linearGradient><linearGradient id="h3"><stop offset="0" stop-color="#4536d4"/><stop offset=".051" stop-color="#3f2ab2"/><stop offset=".111" stop-color="#3f29b1"/><stop offset=".217" stop-color="#4434cf"/><stop offset=".409" stop-color="#4332c9"/><stop offset=".519" stop-color="#412dbb"/><stop offset=".702" stop-color="#4851f3"/><stop offset=".804" stop-color="#4366fd"/><stop offset=".915" stop-color="#4851f3"/><stop offset=".966" stop-color="#473fe2"/><stop offset="1" stop-color="#4749ec"/></linearGradient><linearGradient id="h4"><stop offset="0" stop-color="#4435d1"/><stop offset=".051" stop-color="#3f29af"/><stop offset=".111" stop-color="#3f29af"/><stop offset=".217" stop-color="#4433cc"/><stop offset=".404" stop-color="#4331c6"/><stop offset=".515" stop-color="#402bb6"/><stop offset=".583" stop-color="#4433cc"/><stop offset=".702" stop-color="#4850f3"/><stop offset=".8" stop-color="#4268fd"/><stop offset=".919" stop-color="#484bee"/><stop offset=".97" stop-color="#463ddf"/><stop offset="1" stop-color="#4747ea"/></linearGradient><linearGradient id="h5"><stop offset="0" stop-color="#4435d0"/><stop offset=".051" stop-color="#3f29b0"/><stop offset=".111" stop-color="#3f29b0"/><stop offset=".217" stop-color="#4434ce"/><stop offset=".396" stop-color="#4331c8"/><stop offset=".515" stop-color="#402ab3"/><stop offset=".583" stop-color="#4332c8"/><stop offset=".694" stop-color="#484ef1"/><stop offset=".8" stop-color="#416afe"/><stop offset=".915" stop-color="#484bee"/><stop offset=".966" stop-color="#463adb"/><stop offset="1" stop-color="#4745e8"/></linearGradient><linearGradient id="h6"><stop offset="0" stop-color="#4435d1"/><stop offset=".051" stop-color="#402ab4"/><stop offset=".115" stop-color="#402bb7"/><stop offset=".217" stop-color="#4536d4"/><stop offset=".387" stop-color="#4433cc"/><stop offset=".511" stop-color="#3f29b1"/><stop offset=".579" stop-color="#4230c4"/><stop offset=".668" stop-color="#4746ea"/><stop offset=".796" stop-color="#416bfe"/><stop offset=".911" stop-color="#484cef"/><stop offset=".966" stop-color="#4538d7"/><stop offset="1" stop-color="#4743e6"/></linearGradient><linearGradient id="h7"><stop offset="0" stop-color="#4536d3"/><stop offset=".055" stop-color="#412cb9"/><stop offset=".123" stop-color="#422fc2"/><stop offset=".204" stop-color="#4539d9"/><stop offset=".387" stop-color="#4536d2"/><stop offset=".506" stop-color="#3f2ab2"/><stop offset=".574" stop-color="#422fc2"/><stop offset=".664" stop-color="#4745e9"/><stop offset=".791" stop-color="#406dfe"/><stop offset=".911" stop-color="#484bee"/><stop offset=".966" stop-color="#4435d2"/><stop offset="1" stop-color="#4741e4"/></linearGradient><linearGradient id="h8"><stop offset="0" stop-color="#4537d6"/><stop offset=".055" stop-color="#4230c3"/><stop offset=".234" stop-color="#463ee0"/><stop offset=".4" stop-color="#4537d6"/><stop offset=".502" stop-color="#402bb5"/><stop offset=".57" stop-color="#422fc1"/><stop offset=".672" stop-color="#4748eb"/><stop offset=".796" stop-color="#3f6eff"/><stop offset=".906" stop-color="#484cf0"/><stop offset=".962" stop-color="#4433cc"/><stop offset="1" stop-color="#473fe2"/></linearGradient><linearGradient id="h9"><stop offset="0" stop-color="#4538d7"/><stop offset=".06" stop-color="#4434ce"/><stop offset=".243" stop-color="#4743e7"/><stop offset=".396" stop-color="#463bdc"/><stop offset=".511" stop-color="#412cb9"/><stop offset=".574" stop-color="#4331c7"/><stop offset=".702" stop-color="#4851f3"/><stop offset=".796" stop-color="#3d70fe"/><stop offset=".906" stop-color="#484bef"/><stop offset=".962" stop-color="#4331c6"/><stop offset="1" stop-color="#463ee0"/></linearGradient><linearGradient id="h10"><stop offset="0" stop-color="#4539d9"/><stop offset=".098" stop-color="#463bdc"/><stop offset=".272" stop-color="#4749ed"/><stop offset=".413" stop-color="#463cdd"/><stop offset=".519" stop-color="#422ec0"/><stop offset=".596" stop-color="#4537d6"/><stop offset=".749" stop-color="#4464fd"/><stop offset=".804" stop-color="#3d71fe"/><stop offset=".906" stop-color="#484bee"/><stop offset=".962" stop-color="#422fc1"/><stop offset=".987" stop-color="#4536d2"/><stop offset="1" stop-color="#463dde"/></linearGradient><linearGradient id="h11"><stop offset="0" stop-color="#4639d9"/><stop offset=".272" stop-color="#484ef1"/><stop offset=".413" stop-color="#473fe3"/><stop offset=".528" stop-color="#4332c8"/><stop offset=".689" stop-color="#484ff2"/><stop offset=".796" stop-color="#3a73fe"/><stop offset=".898" stop-color="#484ff2"/><stop offset=".962" stop-color="#412dbc"/><stop offset=".983" stop-color="#4332c9"/><stop offset="1" stop-color="#463bdd"/></linearGradient><linearGradient id="h12"><stop offset="0" stop-color="#4539d9"/><stop offset=".226" stop-color="#4851f3"/><stop offset=".391" stop-color="#4849ed"/><stop offset=".536" stop-color="#4535d2"/><stop offset=".698" stop-color="#4852f4"/><stop offset=".796" stop-color="#3974fe"/><stop offset=".894" stop-color="#4851f3"/><stop offset=".936" stop-color="#4435d1"/><stop offset=".962" stop-color="#412cb9"/><stop offset=".983" stop-color="#4331c5"/><stop offset="1" stop-color="#463adb"/></linearGradient><linearGradient id="h13"><stop offset="0" stop-color="#4538d8"/><stop offset=".136" stop-color="#484ef1"/><stop offset=".362" stop-color="#4852f4"/><stop offset=".536" stop-color="#4539d9"/><stop offset=".698" stop-color="#4753f4"/><stop offset=".796" stop-color="#3876fd"/><stop offset=".894" stop-color="#4851f3"/><stop offset=".932" stop-color="#4537d6"/><stop offset=".957" stop-color="#402cb8"/><stop offset=".979" stop-color="#412ebd"/><stop offset="1" stop-color="#463ada"/></linearGradient><linearGradient id="h14"><stop offset="0" stop-color="#4537d5"/><stop offset=".106" stop-color="#484ff1"/><stop offset=".362" stop-color="#4756f7"/><stop offset=".545" stop-color="#463de0"/><stop offset=".719" stop-color="#475bf9"/><stop offset=".796" stop-color="#3677fd"/><stop offset=".889" stop-color="#4753f4"/><stop offset=".932" stop-color="#4537d5"/><stop offset=".957" stop-color="#402bb6"/><stop offset=".979" stop-color="#412dbb"/><stop offset="1" stop-color="#4539d9"/></linearGradient><linearGradient id="h15"><stop offset="0" stop-color="#4435d1"/><stop offset=".094" stop-color="#4850f2"/><stop offset=".366" stop-color="#475af9"/><stop offset=".557" stop-color="#4742e6"/><stop offset=".719" stop-color="#465cf9"/><stop offset=".791" stop-color="#3578fd"/><stop offset=".889" stop-color="#4753f4"/><stop offset=".932" stop-color="#4537d5"/><stop offset=".957" stop-color="#402bb6"/><stop offset=".979" stop-color="#412cba"/><stop offset="1" stop-color="#4538d8"/></linearGradient><linearGradient id="h16"><stop offset="0" stop-color="#4333cb"/><stop offset=".085" stop-color="#4850f2"/><stop offset=".37" stop-color="#465efa"/><stop offset=".57" stop-color="#4748eb"/><stop offset=".719" stop-color="#465cfa"/><stop offset=".791" stop-color="#3479fd"/><stop offset=".885" stop-color="#4755f6"/><stop offset=".923" stop-color="#463cde"/><stop offset=".957" stop-color="#402bb6"/><stop offset=".979" stop-color="#412cba"/><stop offset="1" stop-color="#4538d7"/></linearGradient><linearGradient id="h17"><stop offset="0" stop-color="#4330c5"/><stop offset=".026" stop-color="#4535d2"/><stop offset=".077" stop-color="#484ff2"/><stop offset=".374" stop-color="#4562fc"/><stop offset=".583" stop-color="#484df0"/><stop offset=".719" stop-color="#465dfa"/><stop offset=".791" stop-color="#337afd"/><stop offset=".885" stop-color="#4755f6"/><stop offset=".923" stop-color="#463ddf"/><stop offset=".957" stop-color="#402bb7"/><stop offset=".979" stop-color="#412cb9"/><stop offset="1" stop-color="#4538d7"/></linearGradient><linearGradient id="h18"><stop offset="0" stop-color="#422ebf"/><stop offset=".021" stop-color="#4332c9"/><stop offset=".068" stop-color="#484df0"/><stop offset=".37" stop-color="#4367fd"/><stop offset=".6" stop-color="#4850f3"/><stop offset=".719" stop-color="#465efa"/><stop offset=".791" stop-color="#337bfc"/><stop offset=".885" stop-color="#4756f6"/><stop offset=".928" stop-color="#463bdc"/><stop offset=".962" stop-color="#402bb6"/><stop offset=".983" stop-color="#412ebe"/><stop offset="1" stop-color="#4538d7"/></linearGradient><linearGradient id="h19"><stop offset="0" stop-color="#412dbb"/><stop offset=".021" stop-color="#4230c5"/><stop offset=".064" stop-color="#484bee"/><stop offset=".162" stop-color="#4759f8"/><stop offset=".387" stop-color="#416afe"/><stop offset=".613" stop-color="#4753f5"/><stop offset=".719" stop-color="#465ffb"/><stop offset=".791" stop-color="#337cfc"/><stop offset=".885" stop-color="#4756f6"/><stop offset=".928" stop-color="#463cdd"/><stop offset=".962" stop-color="#412cb8"/><stop offset=".983" stop-color="#422ebf"/><stop offset="1" stop-color="#4538d7"/></linearGradient><linearGradient id="h20"><stop offset="0" stop-color="#402bb7"/><stop offset=".021" stop-color="#422fc2"/><stop offset=".055" stop-color="#4745e8"/><stop offset=".111" stop-color="#4757f7"/><stop offset=".387" stop-color="#3e6ffe"/><stop offset=".63" stop-color="#4755f6"/><stop offset=".723" stop-color="#4561fc"/><stop offset=".791" stop-color="#327cfc"/><stop offset=".881" stop-color="#4758f8"/><stop offset=".923" stop-color="#473fe3"/><stop offset=".966" stop-color="#412cba"/><stop offset=".987" stop-color="#4230c4"/><stop offset="1" stop-color="#4538d7"/></linearGradient><linearGradient id="h21"><stop offset="0" stop-color="#402bb6"/><stop offset=".021" stop-color="#422ec0"/><stop offset=".055" stop-color="#4745e8"/><stop offset=".111" stop-color="#4757f7"/><stop offset=".387" stop-color="#3a73fe"/><stop offset=".647" stop-color="#4757f7"/><stop offset=".728" stop-color="#4563fc"/><stop offset=".791" stop-color="#327cfc"/><stop offset=".881" stop-color="#4758f8"/><stop offset=".928" stop-color="#463ee1"/><stop offset=".966" stop-color="#412dbc"/><stop offset=".987" stop-color="#4331c5"/><stop offset="1" stop-color="#4538d7"/></linearGradient><linearGradient id="h22"><stop offset="0" stop-color="#402bb5"/><stop offset=".021" stop-color="#422ebf"/><stop offset=".055" stop-color="#4745e8"/><stop offset=".111" stop-color="#4757f7"/><stop offset=".391" stop-color="#3677fd"/><stop offset=".63" stop-color="#4759f8"/><stop offset=".719" stop-color="#4660fb"/><stop offset=".791" stop-color="#327dfc"/><stop offset=".881" stop-color="#4758f8"/><stop offset=".928" stop-color="#473fe3"/><stop offset=".97" stop-color="#412ebe"/><stop offset=".991" stop-color="#4433cc"/><stop offset="1" stop-color="#4538d7"/></linearGradient><linearGradient id="h23"><stop offset="0" stop-color="#402bb6"/><stop offset=".021" stop-color="#422fc1"/><stop offset=".055" stop-color="#4745e9"/><stop offset=".111" stop-color="#4757f7"/><stop offset=".306" stop-color="#3a74fe"/><stop offset=".43" stop-color="#3677fd"/><stop offset=".634" stop-color="#475af9"/><stop offset=".723" stop-color="#4562fc"/><stop offset=".791" stop-color="#327dfc"/><stop offset=".885" stop-color="#4757f7"/><stop offset=".932" stop-color="#463ee1"/><stop offset=".97" stop-color="#422fc1"/><stop offset=".991" stop-color="#4433cc"/><stop offset="1" stop-color="#4538d7"/></linearGradient><linearGradient id="h24"><stop offset="0" stop-color="#412cb9"/><stop offset=".021" stop-color="#4230c3"/><stop offset=".06" stop-color="#4749ec"/><stop offset=".128" stop-color="#4759f8"/><stop offset=".391" stop-color="#327dfc"/><stop offset=".651" stop-color="#475af9"/><stop offset=".728" stop-color="#4464fd"/><stop offset=".791" stop-color="#327cfc"/><stop offset=".885" stop-color="#4757f7"/><stop offset=".936" stop-color="#463ee0"/><stop offset=".974" stop-color="#4230c3"/><stop offset="1" stop-color="#4538d7"/></linearGradient><linearGradient id="h25"><stop offset="0" stop-color="#412dbd"/><stop offset=".021" stop-color="#4331c8"/><stop offset=".064" stop-color="#484cf0"/><stop offset=".281" stop-color="#3d71fe"/><stop offset=".409" stop-color="#317efb"/><stop offset=".655" stop-color="#475bf9"/><stop offset=".732" stop-color="#4366fd"/><stop offset=".796" stop-color="#327cfc"/><stop offset=".885" stop-color="#4757f8"/><stop offset=".936" stop-color="#473fe3"/><stop offset=".979" stop-color="#4331c5"/><stop offset="1" stop-color="#4538d7"/></linearGradient><linearGradient id="h26"><stop offset="0" stop-color="#4230c3"/><stop offset=".026" stop-color="#4535d2"/><stop offset=".072" stop-color="#4850f3"/><stop offset=".281" stop-color="#3c71fe"/><stop offset=".409" stop-color="#3180fa"/><stop offset=".664" stop-color="#475bf9"/><stop offset=".736" stop-color="#4268fd"/><stop offset=".796" stop-color="#337bfc"/><stop offset=".885" stop-color="#4758f8"/><stop offset=".94" stop-color="#473fe2"/><stop offset=".979" stop-color="#4331c7"/><stop offset="1" stop-color="#4538d7"/></linearGradient><linearGradient id="h27"><stop offset="0" stop-color="#4332ca"/><stop offset=".034" stop-color="#463cdd"/><stop offset=".077" stop-color="#4852f4"/><stop offset=".281" stop-color="#3d71fe"/><stop offset=".409" stop-color="#3081fa"/><stop offset=".655" stop-color="#465cfa"/><stop offset=".732" stop-color="#4366fd"/><stop offset=".796" stop-color="#337bfc"/><stop offset=".885" stop-color="#4758f8"/><stop offset=".94" stop-color="#4740e4"/><stop offset=".979" stop-color="#4332c8"/><stop offset="1" stop-color="#4538d6"/></linearGradient><linearGradient id="h28"><stop offset="0" stop-color="#4535d2"/><stop offset=".081" stop-color="#4754f5"/><stop offset=".281" stop-color="#3d70fe"/><stop offset=".409" stop-color="#3082f9"/><stop offset=".651" stop-color="#465dfa"/><stop offset=".728" stop-color="#4464fd"/><stop offset=".796" stop-color="#347afd"/><stop offset=".889" stop-color="#4757f7"/><stop offset=".945" stop-color="#4740e3"/><stop offset=".983" stop-color="#4332c9"/><stop offset="1" stop-color="#4537d6"/></linearGradient><linearGradient id="h29"><stop offset="0" stop-color="#4539d8"/><stop offset=".089" stop-color="#4755f6"/><stop offset=".285" stop-color="#3d71fe"/><stop offset=".417" stop-color="#2f83f9"/><stop offset=".655" stop-color="#465dfa"/><stop offset=".732" stop-color="#4465fd"/><stop offset=".796" stop-color="#3479fd"/><stop offset=".889" stop-color="#4758f8"/><stop offset=".945" stop-color="#4741e5"/><stop offset=".983" stop-color="#4332c9"/><stop offset="1" stop-color="#4537d6"/></linearGradient><linearGradient id="h30"><stop offset="0" stop-color="#463cdd"/><stop offset=".098" stop-color="#4756f7"/><stop offset=".285" stop-color="#3d70fe"/><stop offset=".413" stop-color="#2f84f8"/><stop offset=".545" stop-color="#3c71fe"/><stop offset=".694" stop-color="#465dfa"/><stop offset=".8" stop-color="#3678fd"/><stop offset=".894" stop-color="#4757f7"/><stop offset=".949" stop-color="#4740e4"/><stop offset=".983" stop-color="#4332ca"/><stop offset="1" stop-color="#4537d5"/></linearGradient><linearGradient id="h31"><stop offset="0" stop-color="#473fe2"/><stop offset=".111" stop-color="#4757f7"/><stop offset=".289" stop-color="#3d71fe"/><stop offset=".421" stop-color="#2e85f8"/><stop offset=".553" stop-color="#3d71fe"/><stop offset=".694" stop-color="#465dfa"/><stop offset=".8" stop-color="#3777fd"/><stop offset=".898" stop-color="#4757f7"/><stop offset=".949" stop-color="#4742e5"/><stop offset=".983" stop-color="#4332ca"/><stop offset="1" stop-color="#4537d5"/></linearGradient><linearGradient id="h32"><stop offset="0" stop-color="#4743e6"/><stop offset=".132" stop-color="#4758f8"/><stop offset=".298" stop-color="#3b73fe"/><stop offset=".434" stop-color="#2e86f8"/><stop offset=".651" stop-color="#465ffb"/><stop offset=".732" stop-color="#4464fd"/><stop offset=".8" stop-color="#3876fd"/><stop offset=".906" stop-color="#4756f7"/><stop offset=".949" stop-color="#4743e7"/><stop offset=".987" stop-color="#4332ca"/><stop offset="1" stop-color="#4536d4"/></linearGradient><linearGradient id="h33"><stop offset="0" stop-color="#4746ea"/><stop offset=".179" stop-color="#465cfa"/><stop offset=".319" stop-color="#3578fd"/><stop offset=".447" stop-color="#2e86f7"/><stop offset=".651" stop-color="#4660fb"/><stop offset=".732" stop-color="#4464fd"/><stop offset=".8" stop-color="#3975fe"/><stop offset=".919" stop-color="#4754f5"/><stop offset=".957" stop-color="#463ee1"/><stop offset=".987" stop-color="#4332ca"/><stop offset="1" stop-color="#4536d4"/></linearGradient><linearGradient id="h34"><stop offset="0" stop-color="#4849ed"/><stop offset=".277" stop-color="#3f6efe"/><stop offset=".4" stop-color="#2e87f7"/><stop offset=".519" stop-color="#327dfb"/><stop offset=".664" stop-color="#465efb"/><stop offset=".74" stop-color="#4366fd"/><stop offset=".804" stop-color="#3a73fe"/><stop offset=".936" stop-color="#484ff1"/><stop offset=".987" stop-color="#4332ca"/><stop offset="1" stop-color="#4536d4"/></linearGradient><linearGradient id="h35"><stop offset="0" stop-color="#484cf0"/><stop offset=".264" stop-color="#416bfe"/><stop offset=".4" stop-color="#2d88f6"/><stop offset=".519" stop-color="#317efb"/><stop offset=".664" stop-color="#465ffb"/><stop offset=".745" stop-color="#4367fd"/><stop offset=".809" stop-color="#3c72fe"/><stop offset=".94" stop-color="#484df1"/><stop offset=".987" stop-color="#4333cb"/><stop offset="1" stop-color="#4536d4"/></linearGradient><linearGradient id="h36"><stop offset="0" stop-color="#484ef1"/><stop offset=".255" stop-color="#4269fe"/><stop offset=".396" stop-color="#2d89f5"/><stop offset=".511" stop-color="#3081fa"/><stop offset=".672" stop-color="#465efb"/><stop offset=".817" stop-color="#3d70fe"/><stop offset=".94" stop-color="#484ff1"/><stop offset=".987" stop-color="#4433cc"/><stop offset="1" stop-color="#4536d4"/></linearGradient><linearGradient id="h37"><stop offset="0" stop-color="#4850f2"/><stop offset=".247" stop-color="#4367fd"/><stop offset=".396" stop-color="#2d8af5"/><stop offset=".511" stop-color="#2f83f9"/><stop offset=".672" stop-color="#465efb"/><stop offset=".821" stop-color="#3e6ffe"/><stop offset=".936" stop-color="#4853f4"/><stop offset=".983" stop-color="#4434ce"/><stop offset="1" stop-color="#4537d5"/></linearGradient><linearGradient id="h38"><stop offset="0" stop-color="#4851f3"/><stop offset=".238" stop-color="#4366fd"/><stop offset=".396" stop-color="#2d8bf4"/><stop offset=".511" stop-color="#2f83f9"/><stop offset=".672" stop-color="#465ffb"/><stop offset=".83" stop-color="#3e6ffe"/><stop offset=".932" stop-color="#4757f7"/><stop offset=".983" stop-color="#4435d0"/><stop offset="1" stop-color="#4537d6"/></linearGradient><linearGradient id="h39"><stop offset="0" stop-color="#4853f4"/><stop offset=".234" stop-color="#4465fd"/><stop offset=".391" stop-color="#2d8bf4"/><stop offset=".502" stop-color="#2e86f7"/><stop offset=".66" stop-color="#4660fb"/><stop offset=".745" stop-color="#4464fd"/><stop offset=".838" stop-color="#3d70fe"/><stop offset=".923" stop-color="#465dfa"/><stop offset=".962" stop-color="#4741e4"/><stop offset=".991" stop-color="#4435d2"/><stop offset="1" stop-color="#4538d7"/></linearGradient><linearGradient id="h40"><stop offset="0" stop-color="#4753f5"/><stop offset=".23" stop-color="#4465fd"/><stop offset=".391" stop-color="#2d8cf3"/><stop offset=".502" stop-color="#2e87f7"/><stop offset=".655" stop-color="#4561fc"/><stop offset=".745" stop-color="#4563fd"/><stop offset=".855" stop-color="#3b72fe"/><stop offset=".928" stop-color="#465dfa"/><stop offset=".966" stop-color="#473fe2"/><stop offset=".991" stop-color="#4536d5"/><stop offset="1" stop-color="#4539d8"/></linearGradient><linearGradient id="h41"><stop offset="0" stop-color="#4754f5"/><stop offset=".226" stop-color="#4464fd"/><stop offset=".387" stop-color="#2d8bf3"/><stop offset=".498" stop-color="#2d88f6"/><stop offset=".651" stop-color="#4562fc"/><stop offset=".745" stop-color="#4562fc"/><stop offset=".872" stop-color="#3975fd"/><stop offset=".94" stop-color="#4757f7"/><stop offset=".983" stop-color="#4538d7"/><stop offset="1" stop-color="#463ada"/></linearGradient><linearGradient id="h42"><stop offset="0" stop-color="#4754f5"/><stop offset=".226" stop-color="#4464fd"/><stop offset=".383" stop-color="#2d8bf4"/><stop offset=".494" stop-color="#2d89f5"/><stop offset=".651" stop-color="#4562fc"/><stop offset=".745" stop-color="#4562fc"/><stop offset=".872" stop-color="#347afd"/><stop offset=".94" stop-color="#4759f8"/><stop offset=".983" stop-color="#4639d9"/><stop offset="1" stop-color="#463bdc"/></linearGradient><linearGradient id="h43"><stop offset="0" stop-color="#4755f6"/><stop offset=".221" stop-color="#4563fd"/><stop offset=".379" stop-color="#2d8af4"/><stop offset=".489" stop-color="#2d8af4"/><stop offset=".647" stop-color="#4562fc"/><stop offset=".745" stop-color="#4561fc"/><stop offset=".872" stop-color="#317efb"/><stop offset=".932" stop-color="#4562fc"/><stop offset=".983" stop-color="#463bdc"/><stop offset="1" stop-color="#463cde"/></linearGradient><linearGradient id="h44"><stop offset="0" stop-color="#4755f6"/><stop offset=".221" stop-color="#4563fc"/><stop offset=".379" stop-color="#2d8af4"/><stop offset=".489" stop-color="#2d8af5"/><stop offset=".647" stop-color="#4562fc"/><stop offset=".749" stop-color="#4561fc"/><stop offset=".872" stop-color="#2f83f9"/><stop offset=".915" stop-color="#3d70fe"/><stop offset=".962" stop-color="#484aee"/><stop offset=".991" stop-color="#463cdd"/><stop offset="1" stop-color="#463de0"/></linearGradient><linearGradient id="h45"><stop offset="0" stop-color="#4755f6"/><stop offset=".221" stop-color="#4563fc"/><stop offset=".383" stop-color="#2d8af4"/><stop offset=".494" stop-color="#2d88f6"/><stop offset=".651" stop-color="#4562fc"/><stop offset=".753" stop-color="#4561fc"/><stop offset=".872" stop-color="#2e87f7"/><stop offset=".915" stop-color="#3a74fe"/><stop offset=".957" stop-color="#4850f2"/><stop offset=".991" stop-color="#463de0"/><stop offset="1" stop-color="#473fe2"/></linearGradient><linearGradient id="h46"><stop offset="0" stop-color="#4755f6"/><stop offset=".221" stop-color="#4563fc"/><stop offset=".387" stop-color="#2d8af4"/><stop offset=".498" stop-color="#2e87f7"/><stop offset=".655" stop-color="#4561fc"/><stop offset=".757" stop-color="#4561fc"/><stop offset=".851" stop-color="#2e87f7"/><stop offset=".894" stop-color="#2e84f8"/><stop offset=".94" stop-color="#4561fc"/><stop offset=".987" stop-color="#473fe3"/><stop offset="1" stop-color="#4741e4"/></linearGradient><linearGradient id="h47"><stop offset="0" stop-color="#4755f6"/><stop offset=".226" stop-color="#4563fd"/><stop offset=".4" stop-color="#2d8bf4"/><stop offset=".515" stop-color="#2f82f9"/><stop offset=".672" stop-color="#465efb"/><stop offset=".77" stop-color="#4464fd"/><stop offset=".851" stop-color="#2d89f5"/><stop offset=".894" stop-color="#2d87f6"/><stop offset=".94" stop-color="#4562fc"/><stop offset=".987" stop-color="#4742e5"/><stop offset="1" stop-color="#4743e6"/></linearGradient><linearGradient id="h48"><stop offset="0" stop-color="#4754f5"/><stop offset=".226" stop-color="#4563fc"/><stop offset=".404" stop-color="#2d8af4"/><stop offset=".519" stop-color="#3081fa"/><stop offset=".672" stop-color="#465efa"/><stop offset=".77" stop-color="#4563fd"/><stop offset=".843" stop-color="#2e87f7"/><stop offset=".885" stop-color="#2c8df2"/><stop offset=".923" stop-color="#3a73fe"/><stop offset=".966" stop-color="#484ef1"/><stop offset="1" stop-color="#4745e8"/></linearGradient><linearGradient id="h49"><stop offset="0" stop-color="#4754f5"/><stop offset=".23" stop-color="#4563fd"/><stop offset=".409" stop-color="#2d89f5"/><stop offset=".528" stop-color="#327dfb"/><stop offset=".668" stop-color="#465efb"/><stop offset=".77" stop-color="#4562fc"/><stop offset=".843" stop-color="#2d88f6"/><stop offset=".885" stop-color="#2c8ef1"/><stop offset=".923" stop-color="#3974fe"/><stop offset=".966" stop-color="#4850f2"/><stop offset="1" stop-color="#4747ea"/></linearGradient><linearGradient id="h50"><stop offset="0" stop-color="#4753f5"/><stop offset=".23" stop-color="#4563fc"/><stop offset=".413" stop-color="#2d88f6"/><stop offset=".536" stop-color="#347afd"/><stop offset=".664" stop-color="#465efb"/><stop offset=".77" stop-color="#4562fc"/><stop offset=".838" stop-color="#2e85f8"/><stop offset=".881" stop-color="#2c8ff0"/><stop offset=".923" stop-color="#3974fe"/><stop offset=".962" stop-color="#4754f5"/><stop offset="1" stop-color="#4748ec"/></linearGradient><linearGradient id="h51"><stop offset="0" stop-color="#4853f4"/><stop offset=".234" stop-color="#4563fd"/><stop offset=".417" stop-color="#2e87f7"/><stop offset=".545" stop-color="#3776fd"/><stop offset=".689" stop-color="#465cf9"/><stop offset=".787" stop-color="#4366fd"/><stop offset=".851" stop-color="#2d8bf4"/><stop offset=".889" stop-color="#2d8cf3"/><stop offset=".928" stop-color="#3d70fe"/><stop offset=".983" stop-color="#484bee"/><stop offset="1" stop-color="#484aed"/></linearGradient><linearGradient id="h52"><stop offset="0" stop-color="#4852f3"/><stop offset=".226" stop-color="#4561fc"/><stop offset=".426" stop-color="#2e85f8"/><stop offset=".557" stop-color="#3c72fe"/><stop offset=".715" stop-color="#475bf9"/><stop offset=".8" stop-color="#416bfe"/><stop offset=".86" stop-color="#2c8df2"/><stop offset=".898" stop-color="#2e87f7"/><stop offset=".945" stop-color="#4561fc"/><stop offset=".991" stop-color="#484bee"/><stop offset="1" stop-color="#484bef"/></linearGradient><linearGradient id="h53"><stop offset="0" stop-color="#4850f2"/><stop offset=".204" stop-color="#465efa"/><stop offset=".43" stop-color="#2f83f9"/><stop offset=".557" stop-color="#3d70fe"/><stop offset=".715" stop-color="#475af9"/><stop offset=".8" stop-color="#416afe"/><stop offset=".86" stop-color="#2d8af4"/><stop offset=".902" stop-color="#3082f9"/><stop offset=".949" stop-color="#465efa"/><stop offset=".996" stop-color="#484cef"/><stop offset="1" stop-color="#484cef"/></linearGradient><linearGradient id="h54"><stop offset="0" stop-color="#484ff1"/><stop offset=".145" stop-color="#4757f7"/><stop offset=".323" stop-color="#3b73fe"/><stop offset=".455" stop-color="#3180fa"/><stop offset=".681" stop-color="#475bf9"/><stop offset=".787" stop-color="#4465fd"/><stop offset=".868" stop-color="#2d89f5"/><stop offset=".911" stop-color="#347afd"/><stop offset=".957" stop-color="#4758f8"/><stop offset="1" stop-color="#484cf0"/></linearGradient><linearGradient id="h55"><stop offset="0" stop-color="#484df0"/><stop offset=".102" stop-color="#4850f3"/><stop offset=".323" stop-color="#3c71fe"/><stop offset=".455" stop-color="#327dfb"/><stop offset=".677" stop-color="#475bf9"/><stop offset=".787" stop-color="#4464fd"/><stop offset=".872" stop-color="#2e85f8"/><stop offset=".919" stop-color="#3d71fe"/><stop offset=".983" stop-color="#484cf0"/><stop offset="1" stop-color="#484cef"/></linearGradient><linearGradient id="h56"><stop offset="0" stop-color="#484aee"/><stop offset=".085" stop-color="#484bef"/><stop offset=".328" stop-color="#3d70fe"/><stop offset=".46" stop-color="#337bfd"/><stop offset=".668" stop-color="#475bf9"/><stop offset=".787" stop-color="#4464fd"/><stop offset=".872" stop-color="#3081fa"/><stop offset=".915" stop-color="#3d70fe"/><stop offset=".987" stop-color="#484aee"/><stop offset="1" stop-color="#484bee"/></linearGradient><linearGradient id="h57"><stop offset="0" stop-color="#4747eb"/><stop offset=".077" stop-color="#4746ea"/><stop offset=".26" stop-color="#4563fc"/><stop offset=".438" stop-color="#3579fd"/><stop offset=".672" stop-color="#475af8"/><stop offset=".8" stop-color="#4367fd"/><stop offset=".877" stop-color="#337cfc"/><stop offset=".953" stop-color="#4757f7"/><stop offset=".996" stop-color="#4748ec"/><stop offset="1" stop-color="#4749ed"/></linearGradient><linearGradient id="h58"><stop offset="0" stop-color="#4744e7"/><stop offset=".068" stop-color="#4741e4"/><stop offset=".191" stop-color="#475af9"/><stop offset=".443" stop-color="#3776fd"/><stop offset=".677" stop-color="#4759f8"/><stop offset=".817" stop-color="#416bfe"/><stop offset=".881" stop-color="#3776fd"/><stop offset=".953" stop-color="#4755f6"/><stop offset=".996" stop-color="#4746e9"/><stop offset="1" stop-color="#4746ea"/></linearGradient><linearGradient id="h59"><stop offset="0" stop-color="#4740e4"/><stop offset=".06" stop-color="#463cde"/><stop offset=".166" stop-color="#4757f7"/><stop offset=".443" stop-color="#3a73fe"/><stop offset=".681" stop-color="#4758f8"/><stop offset=".885" stop-color="#3d71fe"/><stop offset=".957" stop-color="#484ff2"/><stop offset=".996" stop-color="#4742e5"/><stop offset="1" stop-color="#4743e7"/></linearGradient><linearGradient id="h60"><stop offset="0" stop-color="#463de0"/><stop offset=".055" stop-color="#4538d7"/><stop offset=".153" stop-color="#4754f5"/><stop offset=".438" stop-color="#3d70fe"/><stop offset=".672" stop-color="#4756f7"/><stop offset=".885" stop-color="#406cfe"/><stop offset=".957" stop-color="#484df0"/><stop offset=".991" stop-color="#463de0"/><stop offset="1" stop-color="#473fe2"/></linearGradient><linearGradient id="h61"><stop offset="0" stop-color="#463bdc"/><stop offset=".047" stop-color="#4434cd"/><stop offset=".149" stop-color="#4853f4"/><stop offset=".438" stop-color="#3f6efe"/><stop offset=".655" stop-color="#4754f5"/><stop offset=".868" stop-color="#416afe"/><stop offset=".945" stop-color="#4853f4"/><stop offset=".987" stop-color="#463ada"/><stop offset="1" stop-color="#463cdd"/></linearGradient><linearGradient id="h62"><stop offset="0" stop-color="#4538d7"/><stop offset=".043" stop-color="#4230c3"/><stop offset=".145" stop-color="#4851f3"/><stop offset=".434" stop-color="#416bfe"/><stop offset=".647" stop-color="#4852f4"/><stop offset=".83" stop-color="#4269fe"/><stop offset=".928" stop-color="#475af9"/><stop offset=".966" stop-color="#473ee1"/><stop offset=".991" stop-color="#4536d4"/><stop offset="1" stop-color="#4539d8"/></linearGradient><linearGradient id="h63"><stop offset="0" stop-color="#4536d3"/><stop offset=".038" stop-color="#412dbb"/><stop offset=".072" stop-color="#4332c9"/><stop offset=".132" stop-color="#484cf0"/><stop offset=".379" stop-color="#4269fe"/><stop offset=".515" stop-color="#465cfa"/><stop offset=".647" stop-color="#484ff2"/><stop offset=".813" stop-color="#416afe"/><stop offset=".932" stop-color="#4756f7"/><stop offset=".966" stop-color="#463cdd"/><stop offset=".987" stop-color="#4333cb"/><stop offset="1" stop-color="#4535d2"/></linearGradient><linearGradient id="h64"><stop offset="0" stop-color="#4434cd"/><stop offset=".034" stop-color="#402bb5"/><stop offset=".068" stop-color="#422ebf"/><stop offset=".119" stop-color="#4745e9"/><stop offset=".204" stop-color="#4759f8"/><stop offset=".443" stop-color="#4465fd"/><stop offset=".621" stop-color="#484bef"/><stop offset=".809" stop-color="#406cfe"/><stop offset=".936" stop-color="#4853f4"/><stop offset=".987" stop-color="#4230c3"/><stop offset="1" stop-color="#4433cb"/></linearGradient><linearGradient id="h65"><stop offset="0" stop-color="#4332c8"/><stop offset=".034" stop-color="#3f29b0"/><stop offset=".068" stop-color="#412cba"/><stop offset=".115" stop-color="#4741e5"/><stop offset=".179" stop-color="#4756f6"/><stop offset=".438" stop-color="#4563fc"/><stop offset=".617" stop-color="#4747eb"/><stop offset=".732" stop-color="#465efb"/><stop offset=".8" stop-color="#3f6eff"/><stop offset=".94" stop-color="#484ff1"/><stop offset=".987" stop-color="#412ebe"/><stop offset="1" stop-color="#4331c7"/></linearGradient><linearGradient id="h66"><stop offset="0" stop-color="#4330c5"/><stop offset=".034" stop-color="#3e28ac"/><stop offset=".068" stop-color="#402bb6"/><stop offset=".115" stop-color="#4740e4"/><stop offset=".174" stop-color="#4755f6"/><stop offset=".434" stop-color="#4561fc"/><stop offset=".609" stop-color="#4743e7"/><stop offset=".723" stop-color="#475bf9"/><stop offset=".791" stop-color="#3c71fe"/><stop offset=".94" stop-color="#484ef1"/><stop offset=".987" stop-color="#412dbc"/><stop offset="1" stop-color="#4331c5"/></linearGradient><linearGradient id="h67"><stop offset="0" stop-color="#4230c3"/><stop offset=".034" stop-color="#3e27aa"/><stop offset=".068" stop-color="#402bb5"/><stop offset=".115" stop-color="#4740e3"/><stop offset=".174" stop-color="#4755f6"/><stop offset=".434" stop-color="#465ffb"/><stop offset=".604" stop-color="#4740e3"/><stop offset=".715" stop-color="#4758f8"/><stop offset=".791" stop-color="#3a74fe"/><stop offset=".919" stop-color="#4756f7"/><stop offset=".953" stop-color="#4742e6"/><stop offset=".983" stop-color="#422ebf"/><stop offset="1" stop-color="#4331c6"/></linearGradient><linearGradient id="h68"><stop offset="0" stop-color="#4230c3"/><stop offset=".034" stop-color="#3e27aa"/><stop offset=".068" stop-color="#402ab4"/><stop offset=".115" stop-color="#4740e3"/><stop offset=".174" stop-color="#4755f6"/><stop offset=".434" stop-color="#465dfa"/><stop offset=".596" stop-color="#463de0"/><stop offset=".698" stop-color="#4851f3"/><stop offset=".783" stop-color="#3776fd"/><stop offset=".906" stop-color="#4758f8"/><stop offset=".949" stop-color="#4747eb"/><stop offset=".987" stop-color="#422fc2"/><stop offset="1" stop-color="#4333cb"/></linearGradient><linearGradient id="h69"><stop offset="0" stop-color="#4230c4"/><stop offset=".034" stop-color="#3e27ab"/><stop offset=".068" stop-color="#402bb6"/><stop offset=".115" stop-color="#4740e4"/><stop offset=".174" stop-color="#4754f5"/><stop offset=".434" stop-color="#475bf9"/><stop offset=".591" stop-color="#463cdd"/><stop offset=".685" stop-color="#484cef"/><stop offset=".757" stop-color="#3d70fe"/><stop offset=".804" stop-color="#3776fd"/><stop offset=".885" stop-color="#475af9"/><stop offset=".945" stop-color="#484cef"/><stop offset=".987" stop-color="#4332c9"/><stop offset="1" stop-color="#4435d1"/></linearGradient><linearGradient id="h70"><stop offset="0" stop-color="#4331c7"/><stop offset=".034" stop-color="#3f28af"/><stop offset=".068" stop-color="#412cb9"/><stop offset=".115" stop-color="#4741e4"/><stop offset=".179" stop-color="#4755f6"/><stop offset=".434" stop-color="#475af9"/><stop offset=".591" stop-color="#463bdb"/><stop offset=".685" stop-color="#484cef"/><stop offset=".753" stop-color="#3e6ffe"/><stop offset=".796" stop-color="#337afd"/><stop offset=".881" stop-color="#475bf9"/><stop offset=".949" stop-color="#484aee"/><stop offset=".987" stop-color="#4536d3"/><stop offset="1" stop-color="#4538d8"/></linearGradient><linearGradient id="h71"><stop offset="0" stop-color="#4433cc"/><stop offset=".034" stop-color="#402ab4"/><stop offset=".068" stop-color="#412ebd"/><stop offset=".115" stop-color="#4742e6"/><stop offset=".183" stop-color="#4756f6"/><stop offset=".438" stop-color="#4758f8"/><stop offset=".587" stop-color="#463adb"/><stop offset=".681" stop-color="#484aee"/><stop offset=".753" stop-color="#3d71fe"/><stop offset=".796" stop-color="#327cfc"/><stop offset=".881" stop-color="#475bf9"/><stop offset=".953" stop-color="#4849ed"/><stop offset=".991" stop-color="#463ada"/><stop offset="1" stop-color="#463cde"/></linearGradient><linearGradient id="h72"><stop offset="0" stop-color="#4535d2"/><stop offset=".034" stop-color="#412cba"/><stop offset=".068" stop-color="#4230c4"/><stop offset=".128" stop-color="#484aee"/><stop offset=".238" stop-color="#4758f8"/><stop offset=".447" stop-color="#4756f7"/><stop offset=".587" stop-color="#463bdb"/><stop offset=".681" stop-color="#484bee"/><stop offset=".749" stop-color="#3e6ffe"/><stop offset=".791" stop-color="#327efb"/><stop offset=".881" stop-color="#475bf9"/><stop offset=".957" stop-color="#484aed"/><stop offset=".996" stop-color="#473fe2"/><stop offset="1" stop-color="#4740e4"/></linearGradient><linearGradient id="h73"><stop offset="0" stop-color="#4538d8"/><stop offset=".043" stop-color="#422fc2"/><stop offset=".14" stop-color="#4850f2"/><stop offset=".391" stop-color="#475bf9"/><stop offset=".523" stop-color="#4745e8"/><stop offset=".613" stop-color="#463ddf"/><stop offset=".711" stop-color="#4758f8"/><stop offset=".779" stop-color="#317efb"/><stop offset=".826" stop-color="#3b72fe"/><stop offset=".894" stop-color="#4759f8"/><stop offset="1" stop-color="#4745e9"/></linearGradient><linearGradient id="h74"><stop offset="0" stop-color="#463cdd"/><stop offset=".047" stop-color="#4434ce"/><stop offset=".145" stop-color="#4852f4"/><stop offset=".43" stop-color="#4759f8"/><stop offset=".596" stop-color="#463ee1"/><stop offset=".698" stop-color="#4754f5"/><stop offset=".753" stop-color="#3974fe"/><stop offset=".796" stop-color="#317ffa"/><stop offset=".881" stop-color="#465cfa"/><stop offset="1" stop-color="#484bee"/></linearGradient><linearGradient id="h75"><stop offset="0" stop-color="#473fe3"/><stop offset=".055" stop-color="#4639d9"/><stop offset=".153" stop-color="#4756f6"/><stop offset=".443" stop-color="#4758f8"/><stop offset=".604" stop-color="#4742e5"/><stop offset=".711" stop-color="#465cf9"/><stop offset=".783" stop-color="#3081fa"/><stop offset=".889" stop-color="#465cf9"/><stop offset="1" stop-color="#4850f2"/></linearGradient><linearGradient id="h76"><stop offset="0" stop-color="#4745e9"/><stop offset=".06" stop-color="#473fe2"/><stop offset=".17" stop-color="#475af9"/><stop offset=".455" stop-color="#4759f8"/><stop offset=".609" stop-color="#4747eb"/><stop offset=".715" stop-color="#4660fb"/><stop offset=".783" stop-color="#3082f9"/><stop offset=".894" stop-color="#465efa"/><stop offset="1" stop-color="#4755f6"/></linearGradient><linearGradient id="h77"><stop offset="0" stop-color="#484cef"/><stop offset=".068" stop-color="#4748ec"/><stop offset=".191" stop-color="#465efa"/><stop offset=".468" stop-color="#475af9"/><stop offset=".617" stop-color="#484df1"/><stop offset=".715" stop-color="#4563fd"/><stop offset=".783" stop-color="#2f83f9"/><stop offset=".902" stop-color="#4660fb"/><stop offset="1" stop-color="#475af9"/></linearGradient><linearGradient id="h78"><stop offset="0" stop-color="#4852f4"/><stop offset=".081" stop-color="#4852f4"/><stop offset=".217" stop-color="#4562fc"/><stop offset=".485" stop-color="#465cfa"/><stop offset=".63" stop-color="#4754f5"/><stop offset=".723" stop-color="#416bfe"/><stop offset=".783" stop-color="#2e85f8"/><stop offset=".906" stop-color="#4465fd"/><stop offset="1" stop-color="#4660fb"/></linearGradient><linearGradient id="h79"><stop offset="0" stop-color="#4759f8"/><stop offset=".089" stop-color="#475af9"/><stop offset=".268" stop-color="#4366fd"/><stop offset=".647" stop-color="#465dfa"/><stop offset=".728" stop-color="#3b72fe"/><stop offset=".787" stop-color="#2d88f5"/><stop offset=".911" stop-color="#3f6dfe"/><stop offset="1" stop-color="#4269fe"/></linearGradient><linearGradient id="h80"><stop offset="0" stop-color="#4660fb"/><stop offset=".413" stop-color="#416bfe"/><stop offset=".647" stop-color="#4563fd"/><stop offset=".728" stop-color="#3677fd"/><stop offset=".791" stop-color="#2c8df2"/><stop offset=".919" stop-color="#347afd"/><stop offset="1" stop-color="#3a74fe"/></linearGradient><linearGradient id="h81"><stop offset="0" stop-color="#4269fe"/><stop offset=".472" stop-color="#3f6eff"/><stop offset=".664" stop-color="#406cfe"/><stop offset=".757" stop-color="#2d8af4"/><stop offset=".817" stop-color="#2b91ef"/><stop offset="1" stop-color="#3082f9"/></linearGradient><linearGradient id="h82"><stop offset="0" stop-color="#3b73fe"/><stop offset=".098" stop-color="#3d70fe"/><stop offset=".681" stop-color="#3975fd"/><stop offset=".809" stop-color="#259be8"/><stop offset=".974" stop-color="#2798ea"/><stop offset="1" stop-color="#2b92ee"/></linearGradient><linearGradient id="h83"><stop offset="0" stop-color="#3081fa"/><stop offset=".06" stop-color="#3a74fe"/><stop offset=".685" stop-color="#337bfc"/><stop offset=".826" stop-color="#1ea7e1"/><stop offset=".94" stop-color="#0fb2d5"/><stop offset="1" stop-color="#20a4e3"/></linearGradient><linearGradient id="h84"><stop offset="0" stop-color="#2896eb"/><stop offset=".043" stop-color="#347afd"/><stop offset=".685" stop-color="#3180fa"/><stop offset=".791" stop-color="#1da9df"/><stop offset=".86" stop-color="#03bac4"/><stop offset=".919" stop-color="#24c2ad"/><stop offset=".962" stop-color="#18bfb5"/><stop offset=".991" stop-color="#02b9c8"/><stop offset="1" stop-color="#07b6ce"/></linearGradient><linearGradient id="h85"><stop offset="0" stop-color="#11b1d6"/><stop offset=".03" stop-color="#2e87f7"/><stop offset=".064" stop-color="#337cfc"/><stop offset=".685" stop-color="#2f82f9"/><stop offset=".77" stop-color="#20a5e2"/><stop offset=".821" stop-color="#03bac4"/><stop offset=".868" stop-color="#33c69b"/><stop offset=".919" stop-color="#5ccc70"/><stop offset=".953" stop-color="#5bcc70"/><stop offset=".987" stop-color="#36c797"/><stop offset="1" stop-color="#29c3a9"/></linearGradient><linearGradient id="h86"><stop offset="0" stop-color="#2ac3a9"/><stop offset=".009" stop-color="#0abcbf"/><stop offset=".013" stop-color="#08b5ce"/><stop offset=".021" stop-color="#22a1e4"/><stop offset=".038" stop-color="#2f83f9"/><stop offset=".102" stop-color="#327dfb"/><stop offset=".685" stop-color="#2f83f9"/><stop offset=".766" stop-color="#1fa6e1"/><stop offset=".804" stop-color="#01bac5"/><stop offset=".838" stop-color="#31c69e"/><stop offset=".864" stop-color="#56cc75"/><stop offset=".906" stop-color="#9ac937"/><stop offset=".945" stop-color="#b4c41f"/><stop offset=".97" stop-color="#a5c72c"/><stop offset=".991" stop-color="#78cd56"/><stop offset="1" stop-color="#5ccc6f"/></linearGradient><linearGradient id="h87"><stop offset="0" stop-color="#47cb82"/><stop offset=".009" stop-color="#2bc3a7"/><stop offset=".013" stop-color="#0dbdbd"/><stop offset=".017" stop-color="#0ab4d1"/><stop offset=".021" stop-color="#1da8e0"/><stop offset=".038" stop-color="#2f84f8"/><stop offset=".081" stop-color="#337cfc"/><stop offset=".685" stop-color="#2f82f9"/><stop offset=".762" stop-color="#20a4e3"/><stop offset=".8" stop-color="#02bac5"/><stop offset=".83" stop-color="#31c69e"/><stop offset=".851" stop-color="#56cc75"/><stop offset=".889" stop-color="#a5c72d"/><stop offset=".919" stop-color="#ccbe0f"/><stop offset=".953" stop-color="#e2b714"/><stop offset=".974" stop-color="#d1bc0d"/><stop offset=".987" stop-color="#b5c41e"/><stop offset="1" stop-color="#8ccb43"/></linearGradient></defs>
<g transform="translate(38.9 0)" shape-rendering="crispEdges"><rect width="235.7" y="304.0" height="2.0" fill="url(#h0)"/><rect width="235.7" y="306.0" height="2.0" fill="url(#h1)"/><rect width="235.7" y="308.0" height="2.0" fill="url(#h2)"/><rect width="235.7" y="310.0" height="2.0" fill="url(#h3)"/><rect width="235.7" y="312.0" height="2.0" fill="url(#h4)"/><rect width="235.7" y="314.0" height="2.0" fill="url(#h5)"/><rect width="235.7" y="316.0" height="2.0" fill="url(#h6)"/><rect width="235.7" y="318.0" height="2.0" fill="url(#h7)"/><rect width="235.7" y="320.0" height="2.0" fill="url(#h8)"/><rect width="235.7" y="322.0" height="2.0" fill="url(#h9)"/><rect width="235.7" y="324.0" height="2.0" fill="url(#h10)"/><rect width="235.7" y="326.0" height="2.0" fill="url(#h11)"/><rect width="235.7" y="328.0" height="2.0" fill="url(#h12)"/><rect width="235.7" y="330.0" height="2.0" fill="url(#h13)"/><rect width="235.7" y="332.0" height="2.0" fill="url(#h14)"/><rect width="235.7" y="334.0" height="2.0" fill="url(#h15)"/><rect width="235.7" y="336.0" height="2.0" fill="url(#h16)"/><rect width="235.7" y="338.0" height="2.0" fill="url(#h17)"/><rect width="235.7" y="340.0" height="2.0" fill="url(#h18)"/><rect width="235.7" y="342.0" height="2.0" fill="url(#h19)"/><rect width="235.7" y="344.0" height="2.0" fill="url(#h20)"/><rect width="235.7" y="346.0" height="2.0" fill="url(#h21)"/><rect width="235.7" y="348.0" height="2.0" fill="url(#h22)"/><rect width="235.7" y="350.0" height="2.0" fill="url(#h23)"/><rect width="235.7" y="352.0" height="2.0" fill="url(#h24)"/><rect width="235.7" y="354.0" height="2.0" fill="url(#h25)"/><rect width="235.7" y="356.0" height="2.0" fill="url(#h26)"/><rect width="235.7" y="358.0" height="2.0" fill="url(#h27)"/><rect width="235.7" y="360.0" height="2.0" fill="url(#h28)"/><rect width="235.7" y="362.0" height="2.0" fill="url(#h29)"/><rect width="235.7" y="364.0" height="2.0" fill="url(#h30)"/><rect width="235.7" y="366.0" height="2.0" fill="url(#h31)"/><rect width="235.7" y="368.0" height="2.0" fill="url(#h32)"/><rect width="235.7" y="370.0" height="2.0" fill="url(#h33)"/><rect width="235.7" y="372.0" height="2.0" fill="url(#h34)"/><rect width="235.7" y="374.0" height="2.0" fill="url(#h35)"/><rect width="235.7" y="376.0" height="2.0" fill="url(#h36)"/><rect width="235.7" y="378.0" height="2.0" fill="url(#h37)"/><rect width="235.7" y="380.0" height="2.0" fill="url(#h38)"/><rect width="235.7" y="382.0" height="2.0" fill="url(#h39)"/><rect width="235.7" y="384.0" height="2.0" fill="url(#h40)"/><rect width="235.7" y="386.0" height="2.0" fill="url(#h41)"/><rect width="235.7" y="388.0" height="2.0" fill="url(#h42)"/><rect width="235.7" y="390.0" height="2.0" fill="url(#h43)"/><rect width="235.7" y="392.0" height="2.0" fill="url(#h44)"/><rect width="235.7" y="394.0" height="2.0" fill="url(#h45)"/><rect width="235.7" y="396.0" height="2.0" fill="url(#h46)"/><rect width="235.7" y="398.0" height="2.0" fill="url(#h47)"/><rect width="235.7" y="400.0" height="2.0" fill="url(#h48)"/><rect width="235.7" y="402.0" height="2.0" fill="url(#h49)"/><rect width="235.7" y="404.0" height="2.0" fill="url(#h50)"/><rect width="235.7" y="406.0" height="2.0" fill="url(#h51)"/><rect width="235.7" y="408.0" height="2.0" fill="url(#h52)"/><rect width="235.7" y="410.0" height="2.0" fill="url(#h53)"/><rect width="235.7" y="412.0" height="2.0" fill="url(#h54)"/><rect width="235.7" y="414.0" height="2.0" fill="url(#h55)"/><rect width="235.7" y="416.0" height="2.0" fill="url(#h56)"/><rect width="235.7" y="418.0" height="2.0" fill="url(#h57)"/><rect width="235.7" y="420.0" height="2.0" fill="url(#h58)"/><rect width="235.7" y="422.0" height="2.0" fill="url(#h59)"/><rect width="235.7" y="424.0" height="2.0" fill="url(#h60)"/><rect width="235.7" y="426.0" height="2.0" fill="url(#h61)"/><rect width="235.7" y="428.0" height="2.0" fill="url(#h62)"/><rect width="235.7" y="430.0" height="2.0" fill="url(#h63)"/><rect width="235.7" y="432.0" height="2.0" fill="url(#h64)"/><rect width="235.7" y="434.0" height="2.0" fill="url(#h65)"/><rect width="235.7" y="436.0" height="2.0" fill="url(#h66)"/><rect width="235.7" y="438.0" height="2.0" fill="url(#h67)"/><rect width="235.7" y="440.0" height="2.0" fill="url(#h68)"/><rect width="235.7" y="442.0" height="2.0" fill="url(#h69)"/><rect width="235.7" y="444.0" height="2.0" fill="url(#h70)"/><rect width="235.7" y="446.0" height="2.0" fill="url(#h71)"/><rect width="235.7" y="448.0" height="2.0" fill="url(#h72)"/><rect width="235.7" y="450.0" height="2.0" fill="url(#h73)"/><rect width="235.7" y="452.0" height="2.0" fill="url(#h74)"/><rect width="235.7" y="454.0" height="2.0" fill="url(#h75)"/><rect width="235.7" y="456.0" height="2.0" fill="url(#h76)"/><rect width="235.7" y="458.0" height="2.0" fill="url(#h77)"/><rect width="235.7" y="460.0" height="2.0" fill="url(#h78)"/><rect width="235.7" y="462.0" height="2.0" fill="url(#h79)"/><rect width="235.7" y="464.0" height="2.0" fill="url(#h80)"/><rect width="235.7" y="466.0" height="2.0" fill="url(#h81)"/><rect width="235.7" y="468.0" height="2.0" fill="url(#h82)"/><rect width="235.7" y="470.0" height="2.0" fill="url(#h83)"/><rect width="235.7" y="472.0" height="2.0" fill="url(#h84)"/><rect width="235.7" y="474.0" height="2.0" fill="url(#h85)"/><rect width="235.7" y="476.0" height="2.0" fill="url(#h86)"/><rect width="235.7" y="478.0" height="1.0" fill="url(#h87)"/></g>
<defs><radialGradient id="cg"><stop offset="0" stop-color="#f9fb15"/><stop offset=".073" stop-color="#f9fb15"/><stop offset=".146" stop-color="#f8f417"/><stop offset=".22" stop-color="#f7ec1a"/><stop offset=".293" stop-color="#f6df1f"/><stop offset=".366" stop-color="#f8cf23"/><stop offset=".439" stop-color="#febb28"/><stop offset=".463" stop-color="#f5b423"/><stop offset=".495" stop-color="#d9ba11"/><stop offset=".527" stop-color="#b7c41d"/><stop offset=".558" stop-color="#8ecb41"/><stop offset=".59" stop-color="#5ecd6e"/><stop offset=".621" stop-color="#35c798"/><stop offset=".653" stop-color="#17bfb6"/><stop offset=".684" stop-color="#07b6ce"/><stop offset=".716" stop-color="#1aabdd" stop-opacity="0.97"/><stop offset=".747" stop-color="#239fe6" stop-opacity="0.86"/><stop offset=".779" stop-color="#2994ed" stop-opacity="0.75"/><stop offset=".811" stop-color="#2d8bf4" stop-opacity="0.65"/><stop offset=".842" stop-color="#3080fa" stop-opacity="0.54"/><stop offset=".874" stop-color="#347afd" stop-opacity="0.43"/><stop offset=".905" stop-color="#3975fe" stop-opacity="0.32"/><stop offset=".937" stop-color="#3d70fe" stop-opacity="0.22"/><stop offset=".968" stop-color="#416bfe" stop-opacity="0.11"/><stop offset="1" stop-color="#4367fd" stop-opacity="0.00"/></radialGradient></defs>
<ellipse cx="140.3" cy="390.8" rx="60.5" ry="58.6" fill="url(#cg)"/>
<g fill="#000"><circle cx="169.5" cy="390.8" r="1.05"/><circle cx="169.2" cy="394.9" r="1.05"/><circle cx="168.3" cy="398.9" r="1.05"/><circle cx="166.8" cy="402.7" r="1.05"/><circle cx="164.8" cy="406.3" r="1.05"/><circle cx="162.3" cy="409.5" r="1.05"/><circle cx="159.3" cy="412.4" r="1.05"/><circle cx="155.9" cy="414.9" r="1.05"/><circle cx="152.3" cy="416.8" r="1.05"/><circle cx="148.3" cy="418.2" r="1.05"/><circle cx="144.2" cy="419.1" r="1.05"/><circle cx="140" cy="419.4" r="1.05"/><circle cx="135.8" cy="419.1" r="1.05"/><circle cx="131.7" cy="418.2" r="1.05"/><circle cx="127.7" cy="416.8" r="1.05"/><circle cx="124.1" cy="414.9" r="1.05"/><circle cx="120.7" cy="412.4" r="1.05"/><circle cx="117.7" cy="409.5" r="1.05"/><circle cx="115.2" cy="406.3" r="1.05"/><circle cx="113.2" cy="402.7" r="1.05"/><circle cx="111.7" cy="398.9" r="1.05"/><circle cx="110.8" cy="394.9" r="1.05"/><circle cx="110.5" cy="390.8" r="1.05"/><circle cx="110.8" cy="386.7" r="1.05"/><circle cx="111.7" cy="382.7" r="1.05"/><circle cx="113.2" cy="378.9" r="1.05"/><circle cx="115.2" cy="375.3" r="1.05"/><circle cx="117.7" cy="372.1" r="1.05"/><circle cx="120.7" cy="369.2" r="1.05"/><circle cx="124.1" cy="366.7" r="1.05"/><circle cx="127.7" cy="364.8" r="1.05"/><circle cx="131.7" cy="363.4" r="1.05"/><circle cx="135.8" cy="362.5" r="1.05"/><circle cx="140" cy="362.2" r="1.05"/><circle cx="144.2" cy="362.5" r="1.05"/><circle cx="148.3" cy="363.4" r="1.05"/><circle cx="152.3" cy="364.8" r="1.05"/><circle cx="155.9" cy="366.7" r="1.05"/><circle cx="159.3" cy="369.2" r="1.05"/><circle cx="162.3" cy="372.1" r="1.05"/><circle cx="164.8" cy="375.3" r="1.05"/><circle cx="166.8" cy="378.9" r="1.05"/><circle cx="168.3" cy="382.7" r="1.05"/><circle cx="169.2" cy="386.7" r="1.05"/></g>
<rect x="38.9" y="287.0" width="235.7" height="209.2" fill="none" stroke="#5a5a5a" stroke-width="1"/>
<path d="M66.4 496.2v-2.3M66.4 287v2.3M96.1 496.2v-2.3M96.1 287v2.3M125.7 496.2v-2.3M125.7 287v2.3M155.3 496.2v-2.3M155.3 287v2.3M185 496.2v-2.3M185 287v2.3M214.7 496.2v-2.3M214.7 287v2.3M244.3 496.2v-2.3M244.3 287v2.3M273.9 496.2v-2.3M273.9 287v2.3M38.9 481.7h2.3M274.6 481.7h-2.3M38.9 452.1h2.3M274.6 452.1h-2.3M38.9 422.6h2.3M274.6 422.6h-2.3M38.9 393h2.3M274.6 393h-2.3M38.9 363.5h2.3M274.6 363.5h-2.3M38.9 333.9h2.3M274.6 333.9h-2.3M38.9 304.4h2.3M274.6 304.4h-2.3" stroke="#5a5a5a" stroke-width="0.8" fill="none"/>
<g class="s" text-anchor="middle" font-size="8.4" fill="#555"><text x="66.4" y="509.2">10</text><text x="96.1" y="509.2">20</text><text x="125.7" y="509.2">30</text><text x="155.3" y="509.2">40</text><text x="185" y="509.2">50</text><text x="214.7" y="509.2">60</text><text x="244.3" y="509.2">70</text><text x="273.9" y="509.2">80</text></g>
<g class="s" text-anchor="end" font-size="8.4" fill="#555"><text x="35.2" y="486.7">0</text><text x="35.2" y="457.1">10</text><text x="35.2" y="427.6">20</text><text x="35.2" y="398">30</text><text x="35.2" y="368.5">40</text><text x="35.2" y="338.9">50</text><text x="35.2" y="309.4">60</text></g>
<text transform="translate(14.6 391.9) rotate(-90)" text-anchor="middle" font-size="16.4" class="r"><tspan font-style="italic">y</tspan> (mm)</text>
<text x="155" y="528" text-anchor="middle" font-size="16" class="r"><tspan font-style="italic">x</tspan> (mm)</text>
<text x="171" y="558" text-anchor="middle" font-size="15.2" font-weight="bold" class="r">(b)</text>
<defs><linearGradient id="cb" x1="0" y1="0" x2="0" y2="1"><stop offset="0" stop-color="#f9fb15"/><stop offset=".031" stop-color="#f6e61c"/><stop offset=".062" stop-color="#f7d522"/><stop offset=".094" stop-color="#fcc526"/><stop offset=".125" stop-color="#feb928"/><stop offset=".156" stop-color="#f5b422"/><stop offset=".188" stop-color="#e2b714"/><stop offset=".219" stop-color="#cebd0e"/><stop offset=".25" stop-color="#bac319"/><stop offset=".281" stop-color="#a5c72d"/><stop offset=".312" stop-color="#8ecb41"/><stop offset=".344" stop-color="#75cd58"/><stop offset=".375" stop-color="#5ccc70"/><stop offset=".406" stop-color="#44ca86"/><stop offset=".438" stop-color="#34c79a"/><stop offset=".469" stop-color="#28c2ab"/><stop offset=".5" stop-color="#12beb9"/><stop offset=".531" stop-color="#01b9c6"/><stop offset=".562" stop-color="#0cb3d3"/><stop offset=".594" stop-color="#1aacdd"/><stop offset=".625" stop-color="#21a3e3"/><stop offset=".656" stop-color="#269ae9"/><stop offset=".688" stop-color="#2c90f0"/><stop offset=".719" stop-color="#2e85f8"/><stop offset=".75" stop-color="#347afd"/><stop offset=".781" stop-color="#3f6eff"/><stop offset=".812" stop-color="#4562fc"/><stop offset=".844" stop-color="#4757f7"/><stop offset=".875" stop-color="#484cef"/><stop offset=".906" stop-color="#473fe3"/><stop offset=".938" stop-color="#4536d5"/><stop offset=".969" stop-color="#412dbc"/><stop offset="1" stop-color="#3e26a8"/></linearGradient></defs>
<rect x="284.8" y="286.8" width="13.1" height="209.2" fill="url(#cb)" stroke="#5a5a5a" stroke-width="0.8"/>
<g class="s" font-size="7.5" fill="#555"><text x="300.6" y="496.7">550</text><text x="300.6" y="463.6">600</text><text x="300.6" y="430.5">650</text><text x="300.6" y="397.4">700</text><text x="300.6" y="364.3">750</text><text x="300.6" y="331.2">800</text><text x="300.6" y="298.1">850</text></g>
<path d="M297.9 494h-2.3M297.9 460.9h-2.3M297.9 427.8h-2.3M297.9 394.7h-2.3M297.9 361.6h-2.3M297.9 328.5h-2.3M297.9 295.4h-2.3" stroke="#5a5a5a" stroke-width="0.8" fill="none"/>
<text transform="translate(327.3 393.6) rotate(90)" text-anchor="middle" font-size="16.1" class="r">Wavenumber (rad/m)</text>
</svg>
</body></html>
